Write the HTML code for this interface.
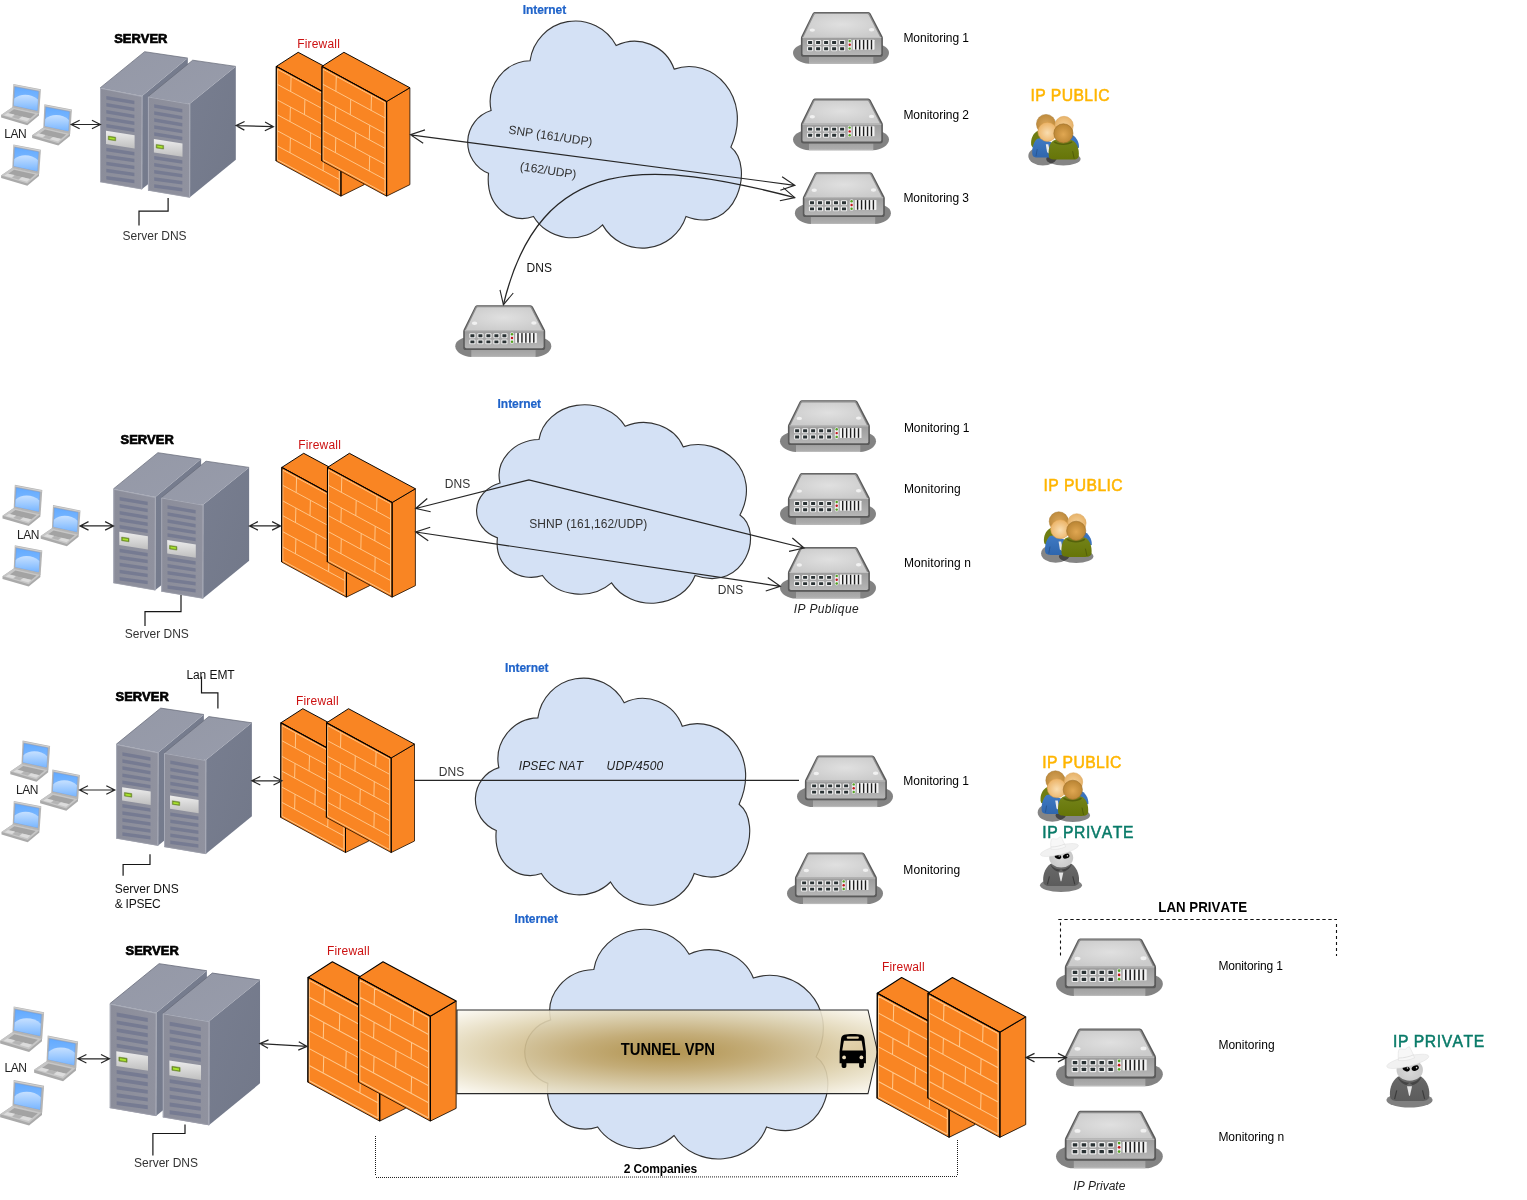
<!DOCTYPE html>
<html lang="en"><head><meta charset="utf-8"><title>Network monitoring diagram</title>
<style>
html,body{margin:0;padding:0;background:#fff;}
body{width:1527px;height:1200px;overflow:hidden;}
svg{display:block;will-change:transform;}
text{font-family:"Liberation Sans",Arial,Helvetica,sans-serif;white-space:pre;font-kerning:none;}
.big{stroke-width:0.5px;paint-order:stroke;}
.srv{stroke:#000;stroke-width:0.65px;paint-order:stroke;}
.net{stroke:#1f63c9;stroke-width:0.2px;}
</style></head>
<body>
<svg width="1527" height="1200" viewBox="0 0 1527 1200">
<defs>
<linearGradient id="srvTop" x1="0" y1="0" x2="1" y2="1"><stop offset="0" stop-color="#9498a6"/><stop offset="1" stop-color="#989cab"/></linearGradient>
<linearGradient id="srvFront" x1="0" y1="0" x2="1" y2="0"><stop offset="0" stop-color="#8b8d9a"/><stop offset="1" stop-color="#90929f"/></linearGradient>
<linearGradient id="srvSide" x1="0" y1="0" x2="1" y2="1"><stop offset="0" stop-color="#787e90"/><stop offset="1" stop-color="#727889"/></linearGradient>
<linearGradient id="srvPanel" x1="0" y1="0" x2="0" y2="1"><stop offset="0" stop-color="#ededed"/><stop offset="1" stop-color="#bfbfbf"/></linearGradient>
<radialGradient id="swTop" cx="0.5" cy="0.45" r="0.6"><stop offset="0" stop-color="#e0e0e0"/><stop offset="1" stop-color="#cbcbcb"/></radialGradient>
<linearGradient id="swFront" x1="0" y1="0" x2="0" y2="1"><stop offset="0" stop-color="#9b9b9b"/><stop offset="1" stop-color="#b6b6b6"/></linearGradient>
<linearGradient id="swBase" x1="0" y1="0" x2="0" y2="1"><stop offset="0" stop-color="#a2a2a2"/><stop offset="0.8" stop-color="#adadad"/><stop offset="1" stop-color="#c4c4c4"/></linearGradient>
<filter id="blur1" x="-50%" y="-50%" width="200%" height="200%"><feGaussianBlur stdDeviation="0.6"/></filter>
<linearGradient id="lapScr" x1="0" y1="0" x2="0" y2="1"><stop offset="0" stop-color="#62aaff"/><stop offset="1" stop-color="#8ec2ff"/></linearGradient>
<linearGradient id="lapGl" x1="0" y1="0" x2="0" y2="1"><stop offset="0" stop-color="#c6e0ff"/><stop offset="1" stop-color="#79b6ff"/></linearGradient>
<radialGradient id="hdDark" cx="0.5" cy="0.5" r="0.6"><stop offset="0" stop-color="#d9a55a"/><stop offset="1" stop-color="#b98638"/></radialGradient>
<radialGradient id="hdDark2" cx="0.5" cy="0.55" r="0.6"><stop offset="0" stop-color="#e0a752"/><stop offset="1" stop-color="#b5802f"/></radialGradient>
<radialGradient id="hdLight" cx="0.5" cy="0.5" r="0.6"><stop offset="0" stop-color="#f5cf94"/><stop offset="1" stop-color="#e4ad62"/></radialGradient>
<radialGradient id="hdLight2" cx="0.5" cy="0.55" r="0.6"><stop offset="0" stop-color="#f9ddb0"/><stop offset="1" stop-color="#eaae5e"/></radialGradient>
<linearGradient id="bdBlue" x1="0" y1="0" x2="0" y2="1"><stop offset="0" stop-color="#3f7ac4"/><stop offset="1" stop-color="#2f66ad"/></linearGradient>
<linearGradient id="bdGreen" x1="0" y1="0" x2="0" y2="1"><stop offset="0" stop-color="#74841a"/><stop offset="1" stop-color="#667508"/></linearGradient>
<linearGradient id="spyBody" x1="0" y1="0" x2="0" y2="1"><stop offset="0" stop-color="#6a6a6a"/><stop offset="1" stop-color="#5c5c5c"/></linearGradient>
<radialGradient id="spyHead" cx="0.5" cy="0.6" r="0.6"><stop offset="0" stop-color="#d8d8d8"/><stop offset="1" stop-color="#c6c6c6"/></radialGradient>
<linearGradient id="busWin" x1="0" y1="0" x2="1" y2="1"><stop offset="0" stop-color="#e4d4b0"/><stop offset="1" stop-color="#dccaa0"/></linearGradient>
<radialGradient id="tunnelG" cx="0.5" cy="0.5" r="0.72"><stop offset="0" stop-color="#ad8a3c"/><stop offset="0.3" stop-color="#c2a76b"/><stop offset="0.65" stop-color="#e0d4b2"/><stop offset="1" stop-color="#fffefa"/></radialGradient>
<filter id="txtAA" filterUnits="userSpaceOnUse" x="0" y="0" width="1527" height="1200"><feOffset dx="0" dy="0"/></filter></defs>
<rect width="1527" height="1200" fill="#fff"/>
<g transform="translate(467.70 21.00) scale(0.9987 0.9994) translate(-467.73 -20.89)"><path d="M530.16 60.66A45.95 45.95 0 0 1 616.39 45.50A42.02 42.02 0 0 1 674.45 69.05C712.50 55.38 754.10 97.30 731.22 147.11C755.57 166.30 736.83 236.24 686.37 216.44A45.95 45.95 0 0 1 602.74 224.89A44.25 44.25 0 0 1 533.63 216.44C511.83 224.80 485.31 207.86 488.56 173.32A33.40 33.40 0 0 1 491.16 110.49A41.35 41.35 0 0 1 530.16 60.66Z" fill="#d4e1f5" stroke="#333" stroke-width="1.15" vector-effect="non-scaling-stroke"/></g>
<g transform="translate(476.60 404.80) scale(0.9994 0.8731) translate(-467.73 -20.89)"><path d="M530.16 60.66A45.95 45.95 0 0 1 616.39 45.50A42.02 42.02 0 0 1 674.45 69.05C712.50 55.38 754.10 97.30 731.22 147.11C755.57 166.30 736.83 236.24 686.37 216.44A45.95 45.95 0 0 1 602.74 224.89A44.25 44.25 0 0 1 533.63 216.44C511.83 224.80 485.31 207.86 488.56 173.32A33.40 33.40 0 0 1 491.16 110.49A41.35 41.35 0 0 1 530.16 60.66Z" fill="#d4e1f5" stroke="#333" stroke-width="1.15" vector-effect="non-scaling-stroke"/></g>
<g transform="translate(475.40 678.10) scale(1.0008 0.9994) translate(-467.73 -20.89)"><path d="M530.16 60.66A45.95 45.95 0 0 1 616.39 45.50A42.02 42.02 0 0 1 674.45 69.05C712.50 55.38 754.10 97.30 731.22 147.11C755.57 166.30 736.83 236.24 686.37 216.44A45.95 45.95 0 0 1 602.74 224.89A44.25 44.25 0 0 1 533.63 216.44C511.83 224.80 485.31 207.86 488.56 173.32A33.40 33.40 0 0 1 491.16 110.49A41.35 41.35 0 0 1 530.16 60.66Z" fill="#d4e1f5" stroke="#333" stroke-width="1.15" vector-effect="non-scaling-stroke"/></g>
<g transform="translate(524.80 929.30) scale(1.1056 1.0109) translate(-467.73 -20.89)"><path d="M530.16 60.66A45.95 45.95 0 0 1 616.39 45.50A42.02 42.02 0 0 1 674.45 69.05C712.50 55.38 754.10 97.30 731.22 147.11C755.57 166.30 736.83 236.24 686.37 216.44A45.95 45.95 0 0 1 602.74 224.89A44.25 44.25 0 0 1 533.63 216.44C511.83 224.80 485.31 207.86 488.56 173.32A33.40 33.40 0 0 1 491.16 110.49A41.35 41.35 0 0 1 530.16 60.66Z" fill="#d4e1f5" stroke="#333" stroke-width="1.15" vector-effect="non-scaling-stroke"/></g>
<path d="M457 1010 L868 1010 L877.6 1052 L868 1093.6 L457 1093.6Z" fill="url(#tunnelG)" fill-opacity="0.9" stroke="#2a2a2a" stroke-width="1.05"/>

<g transform="translate(1.00 84.00) scale(1.0000 1.0000)"><polygon points="0.10,31.00 11.40,23.20 38.00,29.20 38.00,31.60 26.30,41.20 0.10,33.60" fill="#aaaaaa"/><polygon points="0.10,30.90 11.40,23.20 38.00,29.20 26.30,39.00" fill="#c6c6c6"/><polygon points="7.00,29.60 13.00,25.30 34.20,30.10 29.00,34.50" fill="#a3a3a3"/><polygon points="3.20,31.20 6.60,28.90 13.60,30.60 10.60,33.00" fill="#dcdcdc"/><polygon points="18.00,35.00 21.00,32.60 29.00,34.60 26.00,37.20" fill="#dcdcdc"/><polygon points="11.20,33.20 14.00,31.00 20.40,32.60 17.40,34.90" fill="#b4b4b4"/><polygon points="12.40,0.00 39.90,5.30 38.20,29.60 11.30,23.40" fill="#b4b4b4"/><polygon points="12.60,0.60 39.40,5.80 39.30,6.90 12.50,1.70" fill="#d0d0d0"/><polygon points="13.90,2.90 37.40,7.40 36.20,26.60 12.90,21.60" fill="url(#lapScr)" stroke="#6a9be0" stroke-width="0.5"/><path d="M13.3 14.6 C19 9.0 31 9.6 36.9 15.6 L36.2 26.6 L12.9 21.6Z" fill="url(#lapGl)"/></g>
<g transform="translate(32.00 104.30) scale(1.0000 1.0000)"><polygon points="0.10,31.00 11.40,23.20 38.00,29.20 38.00,31.60 26.30,41.20 0.10,33.60" fill="#aaaaaa"/><polygon points="0.10,30.90 11.40,23.20 38.00,29.20 26.30,39.00" fill="#c6c6c6"/><polygon points="7.00,29.60 13.00,25.30 34.20,30.10 29.00,34.50" fill="#a3a3a3"/><polygon points="3.20,31.20 6.60,28.90 13.60,30.60 10.60,33.00" fill="#dcdcdc"/><polygon points="18.00,35.00 21.00,32.60 29.00,34.60 26.00,37.20" fill="#dcdcdc"/><polygon points="11.20,33.20 14.00,31.00 20.40,32.60 17.40,34.90" fill="#b4b4b4"/><polygon points="12.40,0.00 39.90,5.30 38.20,29.60 11.30,23.40" fill="#b4b4b4"/><polygon points="12.60,0.60 39.40,5.80 39.30,6.90 12.50,1.70" fill="#d0d0d0"/><polygon points="13.90,2.90 37.40,7.40 36.20,26.60 12.90,21.60" fill="url(#lapScr)" stroke="#6a9be0" stroke-width="0.5"/><path d="M13.3 14.6 C19 9.0 31 9.6 36.9 15.6 L36.2 26.6 L12.9 21.6Z" fill="url(#lapGl)"/></g>
<g transform="translate(1.00 144.50) scale(1.0000 1.0000)"><polygon points="0.10,31.00 11.40,23.20 38.00,29.20 38.00,31.60 26.30,41.20 0.10,33.60" fill="#aaaaaa"/><polygon points="0.10,30.90 11.40,23.20 38.00,29.20 26.30,39.00" fill="#c6c6c6"/><polygon points="7.00,29.60 13.00,25.30 34.20,30.10 29.00,34.50" fill="#a3a3a3"/><polygon points="3.20,31.20 6.60,28.90 13.60,30.60 10.60,33.00" fill="#dcdcdc"/><polygon points="18.00,35.00 21.00,32.60 29.00,34.60 26.00,37.20" fill="#dcdcdc"/><polygon points="11.20,33.20 14.00,31.00 20.40,32.60 17.40,34.90" fill="#b4b4b4"/><polygon points="12.40,0.00 39.90,5.30 38.20,29.60 11.30,23.40" fill="#b4b4b4"/><polygon points="12.60,0.60 39.40,5.80 39.30,6.90 12.50,1.70" fill="#d0d0d0"/><polygon points="13.90,2.90 37.40,7.40 36.20,26.60 12.90,21.60" fill="url(#lapScr)" stroke="#6a9be0" stroke-width="0.5"/><path d="M13.3 14.6 C19 9.0 31 9.6 36.9 15.6 L36.2 26.6 L12.9 21.6Z" fill="url(#lapGl)"/></g>
<g transform="translate(100.00 52.00) scale(1.0000 1.0000)"><polygon points="42.10,44.10 87.80,6.10 87.80,100.00 41.80,137.30" fill="url(#srvSide)"/><polygon points="0.10,35.90 44.60,-0.30 87.80,6.10 42.10,44.10" fill="url(#srvTop)"/><polyline points="0.10,35.90 44.60,-0.30 87.80,6.10" fill="none" stroke="#666a78" stroke-width="0.8" opacity="0.9"/><polygon points="0.10,35.90 42.10,44.10 41.80,137.30 0.10,130.10" fill="url(#srvFront)"/><polyline points="0.50,130.10 0.50,36.30 42.10,44.50" fill="none" stroke="#a9adb9" stroke-width="0.9"/><line x1="42.10" y1="44.10" x2="41.80" y2="137.30" stroke="#a6a9b5" stroke-width="1.2"/><line x1="0.10" y1="129.80" x2="41.80" y2="137.00" stroke="#9c9eaa" stroke-width="0.8"/><polygon points="6.30,43.90 34.40,48.82 34.40,52.32 6.30,47.40" fill="#767b92"/><polygon points="6.30,50.93 34.40,55.74 34.40,59.24 6.30,54.43" fill="#767b92"/><polygon points="6.30,57.96 34.40,62.65 34.40,66.15 6.30,61.46" fill="#767b92"/><polygon points="6.30,64.99 34.40,69.57 34.40,73.07 6.30,68.49" fill="#767b92"/><polygon points="6.30,72.02 34.40,76.49 34.40,79.99 6.30,75.52" fill="#767b92"/><polygon points="6.30,95.70 34.40,99.91 34.40,103.41 6.30,99.20" fill="#767b92"/><polygon points="6.30,102.75 34.40,106.85 34.40,110.35 6.30,106.25" fill="#767b92"/><polygon points="6.30,109.80 34.40,113.79 34.40,117.29 6.30,113.30" fill="#767b92"/><polygon points="6.30,116.85 34.40,120.73 34.40,124.23 6.30,120.35" fill="#767b92"/><polygon points="6.30,123.90 34.40,127.67 34.40,131.17 6.30,127.40" fill="#767b92"/><polygon points="6.00,78.80 34.60,83.21 34.60,96.51 6.00,92.10" fill="url(#srvPanel)"/><polygon points="8.30,84.10 15.70,85.20 15.70,88.80 8.30,87.70" fill="#6f8f2a" stroke="#6a8a26" stroke-width="0.5" stroke-linejoin="round"/><polygon points="9.30,85.20 14.70,86.00 14.70,87.80 9.30,87.00" fill="#a8e42c"/><polygon points="89.80,51.70 135.80,14.40 135.80,107.80 89.60,145.60" fill="url(#srvSide)"/><polygon points="48.00,44.60 92.70,8.20 135.80,14.40 89.80,51.70" fill="url(#srvTop)"/><polyline points="48.00,44.60 92.70,8.20 135.80,14.40" fill="none" stroke="#666a78" stroke-width="0.8" opacity="0.9"/><polygon points="48.00,44.60 89.80,51.70 89.60,145.60 48.00,138.50" fill="url(#srvFront)"/><polyline points="48.40,138.50 48.40,45.00 89.80,52.10" fill="none" stroke="#a9adb9" stroke-width="0.9"/><line x1="89.80" y1="51.70" x2="89.60" y2="145.60" stroke="#a6a9b5" stroke-width="1.2"/><line x1="48.00" y1="138.20" x2="89.60" y2="145.30" stroke="#9c9eaa" stroke-width="0.8"/><polygon points="54.20,52.20 82.30,57.12 82.30,60.62 54.20,55.70" fill="#767b92"/><polygon points="54.20,59.23 82.30,64.04 82.30,67.54 54.20,62.73" fill="#767b92"/><polygon points="54.20,66.26 82.30,70.95 82.30,74.45 54.20,69.76" fill="#767b92"/><polygon points="54.20,73.29 82.30,77.87 82.30,81.37 54.20,76.79" fill="#767b92"/><polygon points="54.20,80.32 82.30,84.79 82.30,88.29 54.20,83.82" fill="#767b92"/><polygon points="54.20,104.00 82.30,108.22 82.30,111.72 54.20,107.50" fill="#767b92"/><polygon points="54.20,111.05 82.30,115.15 82.30,118.65 54.20,114.55" fill="#767b92"/><polygon points="54.20,118.10 82.30,122.09 82.30,125.59 54.20,121.60" fill="#767b92"/><polygon points="54.20,125.15 82.30,129.03 82.30,132.53 54.20,128.65" fill="#767b92"/><polygon points="54.20,132.20 82.30,135.97 82.30,139.47 54.20,135.70" fill="#767b92"/><polygon points="53.90,87.10 82.50,91.51 82.50,104.81 53.90,100.40" fill="url(#srvPanel)"/><polygon points="56.20,92.40 63.60,93.50 63.60,97.10 56.20,96.00" fill="#6f8f2a" stroke="#6a8a26" stroke-width="0.5" stroke-linejoin="round"/><polygon points="57.20,93.50 62.60,94.30 62.60,96.10 57.20,95.30" fill="#a8e42c"/></g>
<g transform="translate(275.40 52.00) scale(1.0000 1.0000)"><polygon points="65.50,49.54 88.80,35.74 88.80,132.64 65.50,144.14" fill="#f98523" stroke="#1a0d00" stroke-width="0.8" stroke-linejoin="round"/><polygon points="0.90,14.40 22.80,0.30 88.80,35.74 65.50,49.54" fill="#f98523" stroke="#000" stroke-width="0.95" stroke-linejoin="round"/><polygon points="0.90,14.40 65.50,49.54 65.50,144.14 0.70,109.00" fill="#f98523" stroke="#1a0d00" stroke-width="0.8" stroke-linejoin="round"/><path d="M1.90 17.13L63.90 50.70M1.90 32.33L63.90 65.90M1.90 47.93L63.90 81.50M1.90 62.73L63.90 96.30M1.90 78.73L63.90 112.30M1.90 93.93L63.90 127.50M1.90 107.73L63.90 141.30M1.90 17.13L1.90 107.73M63.90 50.70L63.90 141.30M15.70 24.60L15.30 39.80M29.50 47.27L29.10 62.87M15.00 55.02L14.60 69.82M35.30 80.81L34.90 96.81M15.00 85.82L14.60 101.02M48.10 103.74L47.70 118.94" fill="none" stroke="#ffc78a" stroke-width="0.95"/><polyline points="0.70,109.00 0.90,14.40 65.50,49.54" fill="none" stroke="#000" stroke-width="1.05" stroke-linejoin="round"/><line x1="65.50" y1="49.54" x2="65.50" y2="144.14" stroke="#000" stroke-width="1.0"/><polygon points="111.20,49.54 134.50,35.74 134.50,132.64 111.20,144.14" fill="#f98523" stroke="#1a0d00" stroke-width="0.8" stroke-linejoin="round"/><polygon points="46.60,14.40 68.50,0.30 134.50,35.74 111.20,49.54" fill="#f98523" stroke="#000" stroke-width="0.95" stroke-linejoin="round"/><polygon points="46.60,14.40 111.20,49.54 111.20,144.14 46.40,109.00" fill="#f98523" stroke="#1a0d00" stroke-width="0.8" stroke-linejoin="round"/><path d="M47.60 17.13L109.60 50.70M47.60 32.33L109.60 65.90M47.60 47.93L109.60 81.50M47.60 62.73L109.60 96.30M47.60 78.73L109.60 112.30M47.60 93.93L109.60 127.50M47.60 107.73L109.60 141.30M47.60 17.13L47.60 107.73M109.60 50.70L109.60 141.30M60.90 24.33L60.50 39.53M96.10 43.39L95.70 58.59M75.30 47.33L74.90 62.93M60.40 54.86L60.00 69.66M94.30 73.21L93.90 88.01M80.30 80.43L79.90 96.43M60.40 85.66L60.00 100.86M94.30 104.01L93.90 119.21" fill="none" stroke="#ffc78a" stroke-width="0.95"/><polyline points="46.40,109.00 46.60,14.40 111.20,49.54" fill="none" stroke="#000" stroke-width="1.05" stroke-linejoin="round"/><line x1="111.20" y1="49.54" x2="111.20" y2="144.14" stroke="#000" stroke-width="1.0"/></g>
<g transform="translate(793.00 11.80) scale(1.0000 1.0000)"><path d="M0 41.2 C0 35.8 6 33 12 32 L84 32 C90 33 96 35.8 96 41.2 C96 47 88 51.9 80 51.9 L16 51.9 C8 51.9 0 47 0 41.2Z" fill="#838383"/><rect x="16" y="45" width="64.3" height="6.9" fill="url(#swBase)"/><path d="M21.6 0.2 L75.2 0.2 Q76.8 0.2 77.6 1.7 L89.4 24.4 Q89.9 25.4 89.9 26.6 L89.9 42.4 Q89.9 45.0 87.3 45.0 L10.5 45.0 Q7.9 45.0 7.9 42.4 L7.9 26.6 Q7.9 25.4 8.4 24.4 L19.6 1.7 Q20.4 0.2 21.6 0.2Z" fill="#5a5a5a"/><path d="M22.2 1.0 L74.6 1.0 Q75.9 1.0 76.6 2.3 L88.2 25.3 L9.4 25.3 L20.3 2.3 Q21.0 1.0 22.2 1.0Z" fill="#8e8e8e"/><path d="M22.6 2.3 L74.2 2.3 Q75.2 2.3 75.7 3.3 L87.0 25.3 L10.5 25.3 L21.2 3.3 Q21.7 2.3 22.6 2.3Z" fill="url(#swTop)"/><path d="M9.5 25.3 L88.3 25.3 L88.3 41.6 Q88.3 43.2 86.7 43.2 L11.1 43.2 Q9.5 43.2 9.5 41.6Z" fill="url(#swFront)"/><rect x="9.5" y="25.3" width="78.8" height="0.9" fill="#cacaca" opacity="0.9"/><ellipse cx="19.3" cy="18.3" rx="2.7" ry="1.7" fill="#fff" opacity="0.7" filter="url(#blur1)"/><ellipse cx="78.6" cy="18.0" rx="2.7" ry="1.7" fill="#fff" opacity="0.7" filter="url(#blur1)"/><rect x="14.00" y="28.25" width="6.2" height="4.9" rx="1.1" fill="#eeeeee"/><rect x="15.10" y="29.25" width="4.0" height="2.9" rx="0.3" fill="#2a3234"/><rect x="22.00" y="28.25" width="6.2" height="4.9" rx="1.1" fill="#eeeeee"/><rect x="23.10" y="29.25" width="4.0" height="2.9" rx="0.3" fill="#2a3234"/><rect x="30.00" y="28.25" width="6.2" height="4.9" rx="1.1" fill="#eeeeee"/><rect x="31.10" y="29.25" width="4.0" height="2.9" rx="0.3" fill="#2a3234"/><rect x="38.00" y="28.25" width="6.2" height="4.9" rx="1.1" fill="#eeeeee"/><rect x="39.10" y="29.25" width="4.0" height="2.9" rx="0.3" fill="#2a3234"/><rect x="46.00" y="28.25" width="6.2" height="4.9" rx="1.1" fill="#eeeeee"/><rect x="47.10" y="29.25" width="4.0" height="2.9" rx="0.3" fill="#2a3234"/><rect x="14.00" y="34.45" width="6.2" height="4.9" rx="1.1" fill="#eeeeee"/><rect x="15.10" y="35.45" width="4.0" height="2.9" rx="0.3" fill="#2a3234"/><rect x="22.00" y="34.45" width="6.2" height="4.9" rx="1.1" fill="#eeeeee"/><rect x="23.10" y="35.45" width="4.0" height="2.9" rx="0.3" fill="#2a3234"/><rect x="30.00" y="34.45" width="6.2" height="4.9" rx="1.1" fill="#eeeeee"/><rect x="31.10" y="35.45" width="4.0" height="2.9" rx="0.3" fill="#2a3234"/><rect x="38.00" y="34.45" width="6.2" height="4.9" rx="1.1" fill="#eeeeee"/><rect x="39.10" y="35.45" width="4.0" height="2.9" rx="0.3" fill="#2a3234"/><rect x="46.00" y="34.45" width="6.2" height="4.9" rx="1.1" fill="#eeeeee"/><rect x="47.10" y="35.45" width="4.0" height="2.9" rx="0.3" fill="#2a3234"/><rect x="54.8" y="27.2" width="3.8" height="11.6" rx="1.9" fill="#ececec"/><circle cx="56.7" cy="29.2" r="1.2" fill="#52a21f"/><circle cx="56.7" cy="33.0" r="1.2" fill="#c5141b"/><circle cx="56.7" cy="36.8" r="1.2" fill="#52a21f"/><rect x="59.9" y="27.9" width="21.6" height="10.0" rx="0.6" fill="#f4f4f4"/><rect x="62.00" y="28.1" width="1.4" height="9.6" fill="#1e1e1e"/><rect x="65.95" y="28.1" width="1.4" height="9.6" fill="#1e1e1e"/><rect x="69.90" y="28.1" width="1.4" height="9.6" fill="#1e1e1e"/><rect x="73.85" y="28.1" width="1.4" height="9.6" fill="#1e1e1e"/><rect x="77.80" y="28.1" width="1.4" height="9.6" fill="#1e1e1e"/></g>
<g transform="translate(793.00 98.40) scale(1.0000 1.0000)"><path d="M0 41.2 C0 35.8 6 33 12 32 L84 32 C90 33 96 35.8 96 41.2 C96 47 88 51.9 80 51.9 L16 51.9 C8 51.9 0 47 0 41.2Z" fill="#838383"/><rect x="16" y="45" width="64.3" height="6.9" fill="url(#swBase)"/><path d="M21.6 0.2 L75.2 0.2 Q76.8 0.2 77.6 1.7 L89.4 24.4 Q89.9 25.4 89.9 26.6 L89.9 42.4 Q89.9 45.0 87.3 45.0 L10.5 45.0 Q7.9 45.0 7.9 42.4 L7.9 26.6 Q7.9 25.4 8.4 24.4 L19.6 1.7 Q20.4 0.2 21.6 0.2Z" fill="#5a5a5a"/><path d="M22.2 1.0 L74.6 1.0 Q75.9 1.0 76.6 2.3 L88.2 25.3 L9.4 25.3 L20.3 2.3 Q21.0 1.0 22.2 1.0Z" fill="#8e8e8e"/><path d="M22.6 2.3 L74.2 2.3 Q75.2 2.3 75.7 3.3 L87.0 25.3 L10.5 25.3 L21.2 3.3 Q21.7 2.3 22.6 2.3Z" fill="url(#swTop)"/><path d="M9.5 25.3 L88.3 25.3 L88.3 41.6 Q88.3 43.2 86.7 43.2 L11.1 43.2 Q9.5 43.2 9.5 41.6Z" fill="url(#swFront)"/><rect x="9.5" y="25.3" width="78.8" height="0.9" fill="#cacaca" opacity="0.9"/><ellipse cx="19.3" cy="18.3" rx="2.7" ry="1.7" fill="#fff" opacity="0.7" filter="url(#blur1)"/><ellipse cx="78.6" cy="18.0" rx="2.7" ry="1.7" fill="#fff" opacity="0.7" filter="url(#blur1)"/><rect x="14.00" y="28.25" width="6.2" height="4.9" rx="1.1" fill="#eeeeee"/><rect x="15.10" y="29.25" width="4.0" height="2.9" rx="0.3" fill="#2a3234"/><rect x="22.00" y="28.25" width="6.2" height="4.9" rx="1.1" fill="#eeeeee"/><rect x="23.10" y="29.25" width="4.0" height="2.9" rx="0.3" fill="#2a3234"/><rect x="30.00" y="28.25" width="6.2" height="4.9" rx="1.1" fill="#eeeeee"/><rect x="31.10" y="29.25" width="4.0" height="2.9" rx="0.3" fill="#2a3234"/><rect x="38.00" y="28.25" width="6.2" height="4.9" rx="1.1" fill="#eeeeee"/><rect x="39.10" y="29.25" width="4.0" height="2.9" rx="0.3" fill="#2a3234"/><rect x="46.00" y="28.25" width="6.2" height="4.9" rx="1.1" fill="#eeeeee"/><rect x="47.10" y="29.25" width="4.0" height="2.9" rx="0.3" fill="#2a3234"/><rect x="14.00" y="34.45" width="6.2" height="4.9" rx="1.1" fill="#eeeeee"/><rect x="15.10" y="35.45" width="4.0" height="2.9" rx="0.3" fill="#2a3234"/><rect x="22.00" y="34.45" width="6.2" height="4.9" rx="1.1" fill="#eeeeee"/><rect x="23.10" y="35.45" width="4.0" height="2.9" rx="0.3" fill="#2a3234"/><rect x="30.00" y="34.45" width="6.2" height="4.9" rx="1.1" fill="#eeeeee"/><rect x="31.10" y="35.45" width="4.0" height="2.9" rx="0.3" fill="#2a3234"/><rect x="38.00" y="34.45" width="6.2" height="4.9" rx="1.1" fill="#eeeeee"/><rect x="39.10" y="35.45" width="4.0" height="2.9" rx="0.3" fill="#2a3234"/><rect x="46.00" y="34.45" width="6.2" height="4.9" rx="1.1" fill="#eeeeee"/><rect x="47.10" y="35.45" width="4.0" height="2.9" rx="0.3" fill="#2a3234"/><rect x="54.8" y="27.2" width="3.8" height="11.6" rx="1.9" fill="#ececec"/><circle cx="56.7" cy="29.2" r="1.2" fill="#52a21f"/><circle cx="56.7" cy="33.0" r="1.2" fill="#c5141b"/><circle cx="56.7" cy="36.8" r="1.2" fill="#52a21f"/><rect x="59.9" y="27.9" width="21.6" height="10.0" rx="0.6" fill="#f4f4f4"/><rect x="62.00" y="28.1" width="1.4" height="9.6" fill="#1e1e1e"/><rect x="65.95" y="28.1" width="1.4" height="9.6" fill="#1e1e1e"/><rect x="69.90" y="28.1" width="1.4" height="9.6" fill="#1e1e1e"/><rect x="73.85" y="28.1" width="1.4" height="9.6" fill="#1e1e1e"/><rect x="77.80" y="28.1" width="1.4" height="9.6" fill="#1e1e1e"/></g>
<g transform="translate(794.90 172.00) scale(1.0000 1.0000)"><path d="M0 41.2 C0 35.8 6 33 12 32 L84 32 C90 33 96 35.8 96 41.2 C96 47 88 51.9 80 51.9 L16 51.9 C8 51.9 0 47 0 41.2Z" fill="#838383"/><rect x="16" y="45" width="64.3" height="6.9" fill="url(#swBase)"/><path d="M21.6 0.2 L75.2 0.2 Q76.8 0.2 77.6 1.7 L89.4 24.4 Q89.9 25.4 89.9 26.6 L89.9 42.4 Q89.9 45.0 87.3 45.0 L10.5 45.0 Q7.9 45.0 7.9 42.4 L7.9 26.6 Q7.9 25.4 8.4 24.4 L19.6 1.7 Q20.4 0.2 21.6 0.2Z" fill="#5a5a5a"/><path d="M22.2 1.0 L74.6 1.0 Q75.9 1.0 76.6 2.3 L88.2 25.3 L9.4 25.3 L20.3 2.3 Q21.0 1.0 22.2 1.0Z" fill="#8e8e8e"/><path d="M22.6 2.3 L74.2 2.3 Q75.2 2.3 75.7 3.3 L87.0 25.3 L10.5 25.3 L21.2 3.3 Q21.7 2.3 22.6 2.3Z" fill="url(#swTop)"/><path d="M9.5 25.3 L88.3 25.3 L88.3 41.6 Q88.3 43.2 86.7 43.2 L11.1 43.2 Q9.5 43.2 9.5 41.6Z" fill="url(#swFront)"/><rect x="9.5" y="25.3" width="78.8" height="0.9" fill="#cacaca" opacity="0.9"/><ellipse cx="19.3" cy="18.3" rx="2.7" ry="1.7" fill="#fff" opacity="0.7" filter="url(#blur1)"/><ellipse cx="78.6" cy="18.0" rx="2.7" ry="1.7" fill="#fff" opacity="0.7" filter="url(#blur1)"/><rect x="14.00" y="28.25" width="6.2" height="4.9" rx="1.1" fill="#eeeeee"/><rect x="15.10" y="29.25" width="4.0" height="2.9" rx="0.3" fill="#2a3234"/><rect x="22.00" y="28.25" width="6.2" height="4.9" rx="1.1" fill="#eeeeee"/><rect x="23.10" y="29.25" width="4.0" height="2.9" rx="0.3" fill="#2a3234"/><rect x="30.00" y="28.25" width="6.2" height="4.9" rx="1.1" fill="#eeeeee"/><rect x="31.10" y="29.25" width="4.0" height="2.9" rx="0.3" fill="#2a3234"/><rect x="38.00" y="28.25" width="6.2" height="4.9" rx="1.1" fill="#eeeeee"/><rect x="39.10" y="29.25" width="4.0" height="2.9" rx="0.3" fill="#2a3234"/><rect x="46.00" y="28.25" width="6.2" height="4.9" rx="1.1" fill="#eeeeee"/><rect x="47.10" y="29.25" width="4.0" height="2.9" rx="0.3" fill="#2a3234"/><rect x="14.00" y="34.45" width="6.2" height="4.9" rx="1.1" fill="#eeeeee"/><rect x="15.10" y="35.45" width="4.0" height="2.9" rx="0.3" fill="#2a3234"/><rect x="22.00" y="34.45" width="6.2" height="4.9" rx="1.1" fill="#eeeeee"/><rect x="23.10" y="35.45" width="4.0" height="2.9" rx="0.3" fill="#2a3234"/><rect x="30.00" y="34.45" width="6.2" height="4.9" rx="1.1" fill="#eeeeee"/><rect x="31.10" y="35.45" width="4.0" height="2.9" rx="0.3" fill="#2a3234"/><rect x="38.00" y="34.45" width="6.2" height="4.9" rx="1.1" fill="#eeeeee"/><rect x="39.10" y="35.45" width="4.0" height="2.9" rx="0.3" fill="#2a3234"/><rect x="46.00" y="34.45" width="6.2" height="4.9" rx="1.1" fill="#eeeeee"/><rect x="47.10" y="35.45" width="4.0" height="2.9" rx="0.3" fill="#2a3234"/><rect x="54.8" y="27.2" width="3.8" height="11.6" rx="1.9" fill="#ececec"/><circle cx="56.7" cy="29.2" r="1.2" fill="#52a21f"/><circle cx="56.7" cy="33.0" r="1.2" fill="#c5141b"/><circle cx="56.7" cy="36.8" r="1.2" fill="#52a21f"/><rect x="59.9" y="27.9" width="21.6" height="10.0" rx="0.6" fill="#f4f4f4"/><rect x="62.00" y="28.1" width="1.4" height="9.6" fill="#1e1e1e"/><rect x="65.95" y="28.1" width="1.4" height="9.6" fill="#1e1e1e"/><rect x="69.90" y="28.1" width="1.4" height="9.6" fill="#1e1e1e"/><rect x="73.85" y="28.1" width="1.4" height="9.6" fill="#1e1e1e"/><rect x="77.80" y="28.1" width="1.4" height="9.6" fill="#1e1e1e"/></g>
<g transform="translate(455.30 305.00) scale(1.0000 1.0000)"><path d="M0 41.2 C0 35.8 6 33 12 32 L84 32 C90 33 96 35.8 96 41.2 C96 47 88 51.9 80 51.9 L16 51.9 C8 51.9 0 47 0 41.2Z" fill="#838383"/><rect x="16" y="45" width="64.3" height="6.9" fill="url(#swBase)"/><path d="M21.6 0.2 L75.2 0.2 Q76.8 0.2 77.6 1.7 L89.4 24.4 Q89.9 25.4 89.9 26.6 L89.9 42.4 Q89.9 45.0 87.3 45.0 L10.5 45.0 Q7.9 45.0 7.9 42.4 L7.9 26.6 Q7.9 25.4 8.4 24.4 L19.6 1.7 Q20.4 0.2 21.6 0.2Z" fill="#5a5a5a"/><path d="M22.2 1.0 L74.6 1.0 Q75.9 1.0 76.6 2.3 L88.2 25.3 L9.4 25.3 L20.3 2.3 Q21.0 1.0 22.2 1.0Z" fill="#8e8e8e"/><path d="M22.6 2.3 L74.2 2.3 Q75.2 2.3 75.7 3.3 L87.0 25.3 L10.5 25.3 L21.2 3.3 Q21.7 2.3 22.6 2.3Z" fill="url(#swTop)"/><path d="M9.5 25.3 L88.3 25.3 L88.3 41.6 Q88.3 43.2 86.7 43.2 L11.1 43.2 Q9.5 43.2 9.5 41.6Z" fill="url(#swFront)"/><rect x="9.5" y="25.3" width="78.8" height="0.9" fill="#cacaca" opacity="0.9"/><ellipse cx="19.3" cy="18.3" rx="2.7" ry="1.7" fill="#fff" opacity="0.7" filter="url(#blur1)"/><ellipse cx="78.6" cy="18.0" rx="2.7" ry="1.7" fill="#fff" opacity="0.7" filter="url(#blur1)"/><rect x="14.00" y="28.25" width="6.2" height="4.9" rx="1.1" fill="#eeeeee"/><rect x="15.10" y="29.25" width="4.0" height="2.9" rx="0.3" fill="#2a3234"/><rect x="22.00" y="28.25" width="6.2" height="4.9" rx="1.1" fill="#eeeeee"/><rect x="23.10" y="29.25" width="4.0" height="2.9" rx="0.3" fill="#2a3234"/><rect x="30.00" y="28.25" width="6.2" height="4.9" rx="1.1" fill="#eeeeee"/><rect x="31.10" y="29.25" width="4.0" height="2.9" rx="0.3" fill="#2a3234"/><rect x="38.00" y="28.25" width="6.2" height="4.9" rx="1.1" fill="#eeeeee"/><rect x="39.10" y="29.25" width="4.0" height="2.9" rx="0.3" fill="#2a3234"/><rect x="46.00" y="28.25" width="6.2" height="4.9" rx="1.1" fill="#eeeeee"/><rect x="47.10" y="29.25" width="4.0" height="2.9" rx="0.3" fill="#2a3234"/><rect x="14.00" y="34.45" width="6.2" height="4.9" rx="1.1" fill="#eeeeee"/><rect x="15.10" y="35.45" width="4.0" height="2.9" rx="0.3" fill="#2a3234"/><rect x="22.00" y="34.45" width="6.2" height="4.9" rx="1.1" fill="#eeeeee"/><rect x="23.10" y="35.45" width="4.0" height="2.9" rx="0.3" fill="#2a3234"/><rect x="30.00" y="34.45" width="6.2" height="4.9" rx="1.1" fill="#eeeeee"/><rect x="31.10" y="35.45" width="4.0" height="2.9" rx="0.3" fill="#2a3234"/><rect x="38.00" y="34.45" width="6.2" height="4.9" rx="1.1" fill="#eeeeee"/><rect x="39.10" y="35.45" width="4.0" height="2.9" rx="0.3" fill="#2a3234"/><rect x="46.00" y="34.45" width="6.2" height="4.9" rx="1.1" fill="#eeeeee"/><rect x="47.10" y="35.45" width="4.0" height="2.9" rx="0.3" fill="#2a3234"/><rect x="54.8" y="27.2" width="3.8" height="11.6" rx="1.9" fill="#ececec"/><circle cx="56.7" cy="29.2" r="1.2" fill="#52a21f"/><circle cx="56.7" cy="33.0" r="1.2" fill="#c5141b"/><circle cx="56.7" cy="36.8" r="1.2" fill="#52a21f"/><rect x="59.9" y="27.9" width="21.6" height="10.0" rx="0.6" fill="#f4f4f4"/><rect x="62.00" y="28.1" width="1.4" height="9.6" fill="#1e1e1e"/><rect x="65.95" y="28.1" width="1.4" height="9.6" fill="#1e1e1e"/><rect x="69.90" y="28.1" width="1.4" height="9.6" fill="#1e1e1e"/><rect x="73.85" y="28.1" width="1.4" height="9.6" fill="#1e1e1e"/><rect x="77.80" y="28.1" width="1.4" height="9.6" fill="#1e1e1e"/></g>
<g transform="translate(1028.60 114.20) scale(1.0000 1.0000)"><ellipse cx="14.3" cy="41.8" rx="14.6" ry="9.4" fill="#000" fill-opacity="0.48"/><ellipse cx="34.8" cy="44.8" rx="17.2" ry="6.5" fill="#000" fill-opacity="0.48"/><path d="M9.5 16.5 C4 19 2 25 2.6 30.5 C3 33.5 6 34 9 33 L15 24Z" fill="#6e7d12"/><path d="M42 20 C47 21.5 50.6 27 50.4 33.5 L44 35 L40 24Z" fill="#3a73bd"/><circle cx="17.4" cy="9.8" r="9.6" fill="url(#hdDark)" stroke="#a87a32" stroke-width="0.5"/><circle cx="35.4" cy="11.4" r="9.3" fill="url(#hdLight)" stroke="#d8a050" stroke-width="0.5"/><path d="M8.5 24.5 C4.5 28 3.2 35 3.8 40.5 C4.3 43 7 43.5 10 43.4 L21.5 43.4 L23 28 L12 24Z" fill="url(#bdBlue)"/><path d="M17.2 30 L19.8 30 L21.5 40 L18.5 38Z" fill="#e8e8e8"/><path d="M8.6 35 L7.4 42" stroke="#27548f" stroke-width="0.9" fill="none"/><circle cx="18.8" cy="17.6" r="9.6" fill="url(#hdLight2)" stroke="#d49a48" stroke-width="0.5"/><path d="M24.5 26.5 C20.5 29.5 19.6 36 20.2 42 C20.6 44.8 23.5 45.3 27 45.3 L44 45.3 C47.5 45.3 50 44.5 50.2 41.5 C50.6 35.5 49 29.5 44.5 26.5 C38 24 30 24 24.5 26.5Z" fill="url(#bdGreen)"/><path d="M44 37 L45.6 44.5" stroke="#4f5b0a" stroke-width="0.9" fill="none"/><path d="M25.5 27.5 C30 31 39 31 43.5 27.5" stroke="#55610c" stroke-width="1.4" fill="none"/><circle cx="34.8" cy="19.2" r="9.6" fill="url(#hdDark2)" stroke="#9c6f2a" stroke-width="0.6"/></g>
<g transform="translate(2.40 484.80) scale(1.0000 1.0000)"><polygon points="0.10,31.00 11.40,23.20 38.00,29.20 38.00,31.60 26.30,41.20 0.10,33.60" fill="#aaaaaa"/><polygon points="0.10,30.90 11.40,23.20 38.00,29.20 26.30,39.00" fill="#c6c6c6"/><polygon points="7.00,29.60 13.00,25.30 34.20,30.10 29.00,34.50" fill="#a3a3a3"/><polygon points="3.20,31.20 6.60,28.90 13.60,30.60 10.60,33.00" fill="#dcdcdc"/><polygon points="18.00,35.00 21.00,32.60 29.00,34.60 26.00,37.20" fill="#dcdcdc"/><polygon points="11.20,33.20 14.00,31.00 20.40,32.60 17.40,34.90" fill="#b4b4b4"/><polygon points="12.40,0.00 39.90,5.30 38.20,29.60 11.30,23.40" fill="#b4b4b4"/><polygon points="12.60,0.60 39.40,5.80 39.30,6.90 12.50,1.70" fill="#d0d0d0"/><polygon points="13.90,2.90 37.40,7.40 36.20,26.60 12.90,21.60" fill="url(#lapScr)" stroke="#6a9be0" stroke-width="0.5"/><path d="M13.3 14.6 C19 9.0 31 9.6 36.9 15.6 L36.2 26.6 L12.9 21.6Z" fill="url(#lapGl)"/></g>
<g transform="translate(40.60 505.10) scale(1.0000 1.0000)"><polygon points="0.10,31.00 11.40,23.20 38.00,29.20 38.00,31.60 26.30,41.20 0.10,33.60" fill="#aaaaaa"/><polygon points="0.10,30.90 11.40,23.20 38.00,29.20 26.30,39.00" fill="#c6c6c6"/><polygon points="7.00,29.60 13.00,25.30 34.20,30.10 29.00,34.50" fill="#a3a3a3"/><polygon points="3.20,31.20 6.60,28.90 13.60,30.60 10.60,33.00" fill="#dcdcdc"/><polygon points="18.00,35.00 21.00,32.60 29.00,34.60 26.00,37.20" fill="#dcdcdc"/><polygon points="11.20,33.20 14.00,31.00 20.40,32.60 17.40,34.90" fill="#b4b4b4"/><polygon points="12.40,0.00 39.90,5.30 38.20,29.60 11.30,23.40" fill="#b4b4b4"/><polygon points="12.60,0.60 39.40,5.80 39.30,6.90 12.50,1.70" fill="#d0d0d0"/><polygon points="13.90,2.90 37.40,7.40 36.20,26.60 12.90,21.60" fill="url(#lapScr)" stroke="#6a9be0" stroke-width="0.5"/><path d="M13.3 14.6 C19 9.0 31 9.6 36.9 15.6 L36.2 26.6 L12.9 21.6Z" fill="url(#lapGl)"/></g>
<g transform="translate(2.40 545.30) scale(1.0000 1.0000)"><polygon points="0.10,31.00 11.40,23.20 38.00,29.20 38.00,31.60 26.30,41.20 0.10,33.60" fill="#aaaaaa"/><polygon points="0.10,30.90 11.40,23.20 38.00,29.20 26.30,39.00" fill="#c6c6c6"/><polygon points="7.00,29.60 13.00,25.30 34.20,30.10 29.00,34.50" fill="#a3a3a3"/><polygon points="3.20,31.20 6.60,28.90 13.60,30.60 10.60,33.00" fill="#dcdcdc"/><polygon points="18.00,35.00 21.00,32.60 29.00,34.60 26.00,37.20" fill="#dcdcdc"/><polygon points="11.20,33.20 14.00,31.00 20.40,32.60 17.40,34.90" fill="#b4b4b4"/><polygon points="12.40,0.00 39.90,5.30 38.20,29.60 11.30,23.40" fill="#b4b4b4"/><polygon points="12.60,0.60 39.40,5.80 39.30,6.90 12.50,1.70" fill="#d0d0d0"/><polygon points="13.90,2.90 37.40,7.40 36.20,26.60 12.90,21.60" fill="url(#lapScr)" stroke="#6a9be0" stroke-width="0.5"/><path d="M13.3 14.6 C19 9.0 31 9.6 36.9 15.6 L36.2 26.6 L12.9 21.6Z" fill="url(#lapGl)"/></g>
<g transform="translate(113.30 453.00) scale(1.0000 1.0000)"><polygon points="42.10,44.10 87.80,6.10 87.80,100.00 41.80,137.30" fill="url(#srvSide)"/><polygon points="0.10,35.90 44.60,-0.30 87.80,6.10 42.10,44.10" fill="url(#srvTop)"/><polyline points="0.10,35.90 44.60,-0.30 87.80,6.10" fill="none" stroke="#666a78" stroke-width="0.8" opacity="0.9"/><polygon points="0.10,35.90 42.10,44.10 41.80,137.30 0.10,130.10" fill="url(#srvFront)"/><polyline points="0.50,130.10 0.50,36.30 42.10,44.50" fill="none" stroke="#a9adb9" stroke-width="0.9"/><line x1="42.10" y1="44.10" x2="41.80" y2="137.30" stroke="#a6a9b5" stroke-width="1.2"/><line x1="0.10" y1="129.80" x2="41.80" y2="137.00" stroke="#9c9eaa" stroke-width="0.8"/><polygon points="6.30,43.90 34.40,48.82 34.40,52.32 6.30,47.40" fill="#767b92"/><polygon points="6.30,50.93 34.40,55.74 34.40,59.24 6.30,54.43" fill="#767b92"/><polygon points="6.30,57.96 34.40,62.65 34.40,66.15 6.30,61.46" fill="#767b92"/><polygon points="6.30,64.99 34.40,69.57 34.40,73.07 6.30,68.49" fill="#767b92"/><polygon points="6.30,72.02 34.40,76.49 34.40,79.99 6.30,75.52" fill="#767b92"/><polygon points="6.30,95.70 34.40,99.91 34.40,103.41 6.30,99.20" fill="#767b92"/><polygon points="6.30,102.75 34.40,106.85 34.40,110.35 6.30,106.25" fill="#767b92"/><polygon points="6.30,109.80 34.40,113.79 34.40,117.29 6.30,113.30" fill="#767b92"/><polygon points="6.30,116.85 34.40,120.73 34.40,124.23 6.30,120.35" fill="#767b92"/><polygon points="6.30,123.90 34.40,127.67 34.40,131.17 6.30,127.40" fill="#767b92"/><polygon points="6.00,78.80 34.60,83.21 34.60,96.51 6.00,92.10" fill="url(#srvPanel)"/><polygon points="8.30,84.10 15.70,85.20 15.70,88.80 8.30,87.70" fill="#6f8f2a" stroke="#6a8a26" stroke-width="0.5" stroke-linejoin="round"/><polygon points="9.30,85.20 14.70,86.00 14.70,87.80 9.30,87.00" fill="#a8e42c"/><polygon points="89.80,51.70 135.80,14.40 135.80,107.80 89.60,145.60" fill="url(#srvSide)"/><polygon points="48.00,44.60 92.70,8.20 135.80,14.40 89.80,51.70" fill="url(#srvTop)"/><polyline points="48.00,44.60 92.70,8.20 135.80,14.40" fill="none" stroke="#666a78" stroke-width="0.8" opacity="0.9"/><polygon points="48.00,44.60 89.80,51.70 89.60,145.60 48.00,138.50" fill="url(#srvFront)"/><polyline points="48.40,138.50 48.40,45.00 89.80,52.10" fill="none" stroke="#a9adb9" stroke-width="0.9"/><line x1="89.80" y1="51.70" x2="89.60" y2="145.60" stroke="#a6a9b5" stroke-width="1.2"/><line x1="48.00" y1="138.20" x2="89.60" y2="145.30" stroke="#9c9eaa" stroke-width="0.8"/><polygon points="54.20,52.20 82.30,57.12 82.30,60.62 54.20,55.70" fill="#767b92"/><polygon points="54.20,59.23 82.30,64.04 82.30,67.54 54.20,62.73" fill="#767b92"/><polygon points="54.20,66.26 82.30,70.95 82.30,74.45 54.20,69.76" fill="#767b92"/><polygon points="54.20,73.29 82.30,77.87 82.30,81.37 54.20,76.79" fill="#767b92"/><polygon points="54.20,80.32 82.30,84.79 82.30,88.29 54.20,83.82" fill="#767b92"/><polygon points="54.20,104.00 82.30,108.22 82.30,111.72 54.20,107.50" fill="#767b92"/><polygon points="54.20,111.05 82.30,115.15 82.30,118.65 54.20,114.55" fill="#767b92"/><polygon points="54.20,118.10 82.30,122.09 82.30,125.59 54.20,121.60" fill="#767b92"/><polygon points="54.20,125.15 82.30,129.03 82.30,132.53 54.20,128.65" fill="#767b92"/><polygon points="54.20,132.20 82.30,135.97 82.30,139.47 54.20,135.70" fill="#767b92"/><polygon points="53.90,87.10 82.50,91.51 82.50,104.81 53.90,100.40" fill="url(#srvPanel)"/><polygon points="56.20,92.40 63.60,93.50 63.60,97.10 56.20,96.00" fill="#6f8f2a" stroke="#6a8a26" stroke-width="0.5" stroke-linejoin="round"/><polygon points="57.20,93.50 62.60,94.30 62.60,96.10 57.20,95.30" fill="#a8e42c"/></g>
<g transform="translate(280.90 453.00) scale(1.0000 1.0000)"><polygon points="65.50,49.54 88.80,35.74 88.80,132.64 65.50,144.14" fill="#f98523" stroke="#1a0d00" stroke-width="0.8" stroke-linejoin="round"/><polygon points="0.90,14.40 22.80,0.30 88.80,35.74 65.50,49.54" fill="#f98523" stroke="#000" stroke-width="0.95" stroke-linejoin="round"/><polygon points="0.90,14.40 65.50,49.54 65.50,144.14 0.70,109.00" fill="#f98523" stroke="#1a0d00" stroke-width="0.8" stroke-linejoin="round"/><path d="M1.90 17.13L63.90 50.70M1.90 32.33L63.90 65.90M1.90 47.93L63.90 81.50M1.90 62.73L63.90 96.30M1.90 78.73L63.90 112.30M1.90 93.93L63.90 127.50M1.90 107.73L63.90 141.30M1.90 17.13L1.90 107.73M63.90 50.70L63.90 141.30M15.70 24.60L15.30 39.80M29.50 47.27L29.10 62.87M15.00 55.02L14.60 69.82M35.30 80.81L34.90 96.81M15.00 85.82L14.60 101.02M48.10 103.74L47.70 118.94" fill="none" stroke="#ffc78a" stroke-width="0.95"/><polyline points="0.70,109.00 0.90,14.40 65.50,49.54" fill="none" stroke="#000" stroke-width="1.05" stroke-linejoin="round"/><line x1="65.50" y1="49.54" x2="65.50" y2="144.14" stroke="#000" stroke-width="1.0"/><polygon points="111.20,49.54 134.50,35.74 134.50,132.64 111.20,144.14" fill="#f98523" stroke="#1a0d00" stroke-width="0.8" stroke-linejoin="round"/><polygon points="46.60,14.40 68.50,0.30 134.50,35.74 111.20,49.54" fill="#f98523" stroke="#000" stroke-width="0.95" stroke-linejoin="round"/><polygon points="46.60,14.40 111.20,49.54 111.20,144.14 46.40,109.00" fill="#f98523" stroke="#1a0d00" stroke-width="0.8" stroke-linejoin="round"/><path d="M47.60 17.13L109.60 50.70M47.60 32.33L109.60 65.90M47.60 47.93L109.60 81.50M47.60 62.73L109.60 96.30M47.60 78.73L109.60 112.30M47.60 93.93L109.60 127.50M47.60 107.73L109.60 141.30M47.60 17.13L47.60 107.73M109.60 50.70L109.60 141.30M60.90 24.33L60.50 39.53M96.10 43.39L95.70 58.59M75.30 47.33L74.90 62.93M60.40 54.86L60.00 69.66M94.30 73.21L93.90 88.01M80.30 80.43L79.90 96.43M60.40 85.66L60.00 100.86M94.30 104.01L93.90 119.21" fill="none" stroke="#ffc78a" stroke-width="0.95"/><polyline points="46.40,109.00 46.60,14.40 111.20,49.54" fill="none" stroke="#000" stroke-width="1.05" stroke-linejoin="round"/><line x1="111.20" y1="49.54" x2="111.20" y2="144.14" stroke="#000" stroke-width="1.0"/></g>
<g transform="translate(780.00 400.10) scale(1.0000 1.0000)"><path d="M0 41.2 C0 35.8 6 33 12 32 L84 32 C90 33 96 35.8 96 41.2 C96 47 88 51.9 80 51.9 L16 51.9 C8 51.9 0 47 0 41.2Z" fill="#838383"/><rect x="16" y="45" width="64.3" height="6.9" fill="url(#swBase)"/><path d="M21.6 0.2 L75.2 0.2 Q76.8 0.2 77.6 1.7 L89.4 24.4 Q89.9 25.4 89.9 26.6 L89.9 42.4 Q89.9 45.0 87.3 45.0 L10.5 45.0 Q7.9 45.0 7.9 42.4 L7.9 26.6 Q7.9 25.4 8.4 24.4 L19.6 1.7 Q20.4 0.2 21.6 0.2Z" fill="#5a5a5a"/><path d="M22.2 1.0 L74.6 1.0 Q75.9 1.0 76.6 2.3 L88.2 25.3 L9.4 25.3 L20.3 2.3 Q21.0 1.0 22.2 1.0Z" fill="#8e8e8e"/><path d="M22.6 2.3 L74.2 2.3 Q75.2 2.3 75.7 3.3 L87.0 25.3 L10.5 25.3 L21.2 3.3 Q21.7 2.3 22.6 2.3Z" fill="url(#swTop)"/><path d="M9.5 25.3 L88.3 25.3 L88.3 41.6 Q88.3 43.2 86.7 43.2 L11.1 43.2 Q9.5 43.2 9.5 41.6Z" fill="url(#swFront)"/><rect x="9.5" y="25.3" width="78.8" height="0.9" fill="#cacaca" opacity="0.9"/><ellipse cx="19.3" cy="18.3" rx="2.7" ry="1.7" fill="#fff" opacity="0.7" filter="url(#blur1)"/><ellipse cx="78.6" cy="18.0" rx="2.7" ry="1.7" fill="#fff" opacity="0.7" filter="url(#blur1)"/><rect x="14.00" y="28.25" width="6.2" height="4.9" rx="1.1" fill="#eeeeee"/><rect x="15.10" y="29.25" width="4.0" height="2.9" rx="0.3" fill="#2a3234"/><rect x="22.00" y="28.25" width="6.2" height="4.9" rx="1.1" fill="#eeeeee"/><rect x="23.10" y="29.25" width="4.0" height="2.9" rx="0.3" fill="#2a3234"/><rect x="30.00" y="28.25" width="6.2" height="4.9" rx="1.1" fill="#eeeeee"/><rect x="31.10" y="29.25" width="4.0" height="2.9" rx="0.3" fill="#2a3234"/><rect x="38.00" y="28.25" width="6.2" height="4.9" rx="1.1" fill="#eeeeee"/><rect x="39.10" y="29.25" width="4.0" height="2.9" rx="0.3" fill="#2a3234"/><rect x="46.00" y="28.25" width="6.2" height="4.9" rx="1.1" fill="#eeeeee"/><rect x="47.10" y="29.25" width="4.0" height="2.9" rx="0.3" fill="#2a3234"/><rect x="14.00" y="34.45" width="6.2" height="4.9" rx="1.1" fill="#eeeeee"/><rect x="15.10" y="35.45" width="4.0" height="2.9" rx="0.3" fill="#2a3234"/><rect x="22.00" y="34.45" width="6.2" height="4.9" rx="1.1" fill="#eeeeee"/><rect x="23.10" y="35.45" width="4.0" height="2.9" rx="0.3" fill="#2a3234"/><rect x="30.00" y="34.45" width="6.2" height="4.9" rx="1.1" fill="#eeeeee"/><rect x="31.10" y="35.45" width="4.0" height="2.9" rx="0.3" fill="#2a3234"/><rect x="38.00" y="34.45" width="6.2" height="4.9" rx="1.1" fill="#eeeeee"/><rect x="39.10" y="35.45" width="4.0" height="2.9" rx="0.3" fill="#2a3234"/><rect x="46.00" y="34.45" width="6.2" height="4.9" rx="1.1" fill="#eeeeee"/><rect x="47.10" y="35.45" width="4.0" height="2.9" rx="0.3" fill="#2a3234"/><rect x="54.8" y="27.2" width="3.8" height="11.6" rx="1.9" fill="#ececec"/><circle cx="56.7" cy="29.2" r="1.2" fill="#52a21f"/><circle cx="56.7" cy="33.0" r="1.2" fill="#c5141b"/><circle cx="56.7" cy="36.8" r="1.2" fill="#52a21f"/><rect x="59.9" y="27.9" width="21.6" height="10.0" rx="0.6" fill="#f4f4f4"/><rect x="62.00" y="28.1" width="1.4" height="9.6" fill="#1e1e1e"/><rect x="65.95" y="28.1" width="1.4" height="9.6" fill="#1e1e1e"/><rect x="69.90" y="28.1" width="1.4" height="9.6" fill="#1e1e1e"/><rect x="73.85" y="28.1" width="1.4" height="9.6" fill="#1e1e1e"/><rect x="77.80" y="28.1" width="1.4" height="9.6" fill="#1e1e1e"/></g>
<g transform="translate(780.00 472.80) scale(1.0000 1.0000)"><path d="M0 41.2 C0 35.8 6 33 12 32 L84 32 C90 33 96 35.8 96 41.2 C96 47 88 51.9 80 51.9 L16 51.9 C8 51.9 0 47 0 41.2Z" fill="#838383"/><rect x="16" y="45" width="64.3" height="6.9" fill="url(#swBase)"/><path d="M21.6 0.2 L75.2 0.2 Q76.8 0.2 77.6 1.7 L89.4 24.4 Q89.9 25.4 89.9 26.6 L89.9 42.4 Q89.9 45.0 87.3 45.0 L10.5 45.0 Q7.9 45.0 7.9 42.4 L7.9 26.6 Q7.9 25.4 8.4 24.4 L19.6 1.7 Q20.4 0.2 21.6 0.2Z" fill="#5a5a5a"/><path d="M22.2 1.0 L74.6 1.0 Q75.9 1.0 76.6 2.3 L88.2 25.3 L9.4 25.3 L20.3 2.3 Q21.0 1.0 22.2 1.0Z" fill="#8e8e8e"/><path d="M22.6 2.3 L74.2 2.3 Q75.2 2.3 75.7 3.3 L87.0 25.3 L10.5 25.3 L21.2 3.3 Q21.7 2.3 22.6 2.3Z" fill="url(#swTop)"/><path d="M9.5 25.3 L88.3 25.3 L88.3 41.6 Q88.3 43.2 86.7 43.2 L11.1 43.2 Q9.5 43.2 9.5 41.6Z" fill="url(#swFront)"/><rect x="9.5" y="25.3" width="78.8" height="0.9" fill="#cacaca" opacity="0.9"/><ellipse cx="19.3" cy="18.3" rx="2.7" ry="1.7" fill="#fff" opacity="0.7" filter="url(#blur1)"/><ellipse cx="78.6" cy="18.0" rx="2.7" ry="1.7" fill="#fff" opacity="0.7" filter="url(#blur1)"/><rect x="14.00" y="28.25" width="6.2" height="4.9" rx="1.1" fill="#eeeeee"/><rect x="15.10" y="29.25" width="4.0" height="2.9" rx="0.3" fill="#2a3234"/><rect x="22.00" y="28.25" width="6.2" height="4.9" rx="1.1" fill="#eeeeee"/><rect x="23.10" y="29.25" width="4.0" height="2.9" rx="0.3" fill="#2a3234"/><rect x="30.00" y="28.25" width="6.2" height="4.9" rx="1.1" fill="#eeeeee"/><rect x="31.10" y="29.25" width="4.0" height="2.9" rx="0.3" fill="#2a3234"/><rect x="38.00" y="28.25" width="6.2" height="4.9" rx="1.1" fill="#eeeeee"/><rect x="39.10" y="29.25" width="4.0" height="2.9" rx="0.3" fill="#2a3234"/><rect x="46.00" y="28.25" width="6.2" height="4.9" rx="1.1" fill="#eeeeee"/><rect x="47.10" y="29.25" width="4.0" height="2.9" rx="0.3" fill="#2a3234"/><rect x="14.00" y="34.45" width="6.2" height="4.9" rx="1.1" fill="#eeeeee"/><rect x="15.10" y="35.45" width="4.0" height="2.9" rx="0.3" fill="#2a3234"/><rect x="22.00" y="34.45" width="6.2" height="4.9" rx="1.1" fill="#eeeeee"/><rect x="23.10" y="35.45" width="4.0" height="2.9" rx="0.3" fill="#2a3234"/><rect x="30.00" y="34.45" width="6.2" height="4.9" rx="1.1" fill="#eeeeee"/><rect x="31.10" y="35.45" width="4.0" height="2.9" rx="0.3" fill="#2a3234"/><rect x="38.00" y="34.45" width="6.2" height="4.9" rx="1.1" fill="#eeeeee"/><rect x="39.10" y="35.45" width="4.0" height="2.9" rx="0.3" fill="#2a3234"/><rect x="46.00" y="34.45" width="6.2" height="4.9" rx="1.1" fill="#eeeeee"/><rect x="47.10" y="35.45" width="4.0" height="2.9" rx="0.3" fill="#2a3234"/><rect x="54.8" y="27.2" width="3.8" height="11.6" rx="1.9" fill="#ececec"/><circle cx="56.7" cy="29.2" r="1.2" fill="#52a21f"/><circle cx="56.7" cy="33.0" r="1.2" fill="#c5141b"/><circle cx="56.7" cy="36.8" r="1.2" fill="#52a21f"/><rect x="59.9" y="27.9" width="21.6" height="10.0" rx="0.6" fill="#f4f4f4"/><rect x="62.00" y="28.1" width="1.4" height="9.6" fill="#1e1e1e"/><rect x="65.95" y="28.1" width="1.4" height="9.6" fill="#1e1e1e"/><rect x="69.90" y="28.1" width="1.4" height="9.6" fill="#1e1e1e"/><rect x="73.85" y="28.1" width="1.4" height="9.6" fill="#1e1e1e"/><rect x="77.80" y="28.1" width="1.4" height="9.6" fill="#1e1e1e"/></g>
<g transform="translate(780.00 546.70) scale(1.0000 1.0000)"><path d="M0 41.2 C0 35.8 6 33 12 32 L84 32 C90 33 96 35.8 96 41.2 C96 47 88 51.9 80 51.9 L16 51.9 C8 51.9 0 47 0 41.2Z" fill="#838383"/><rect x="16" y="45" width="64.3" height="6.9" fill="url(#swBase)"/><path d="M21.6 0.2 L75.2 0.2 Q76.8 0.2 77.6 1.7 L89.4 24.4 Q89.9 25.4 89.9 26.6 L89.9 42.4 Q89.9 45.0 87.3 45.0 L10.5 45.0 Q7.9 45.0 7.9 42.4 L7.9 26.6 Q7.9 25.4 8.4 24.4 L19.6 1.7 Q20.4 0.2 21.6 0.2Z" fill="#5a5a5a"/><path d="M22.2 1.0 L74.6 1.0 Q75.9 1.0 76.6 2.3 L88.2 25.3 L9.4 25.3 L20.3 2.3 Q21.0 1.0 22.2 1.0Z" fill="#8e8e8e"/><path d="M22.6 2.3 L74.2 2.3 Q75.2 2.3 75.7 3.3 L87.0 25.3 L10.5 25.3 L21.2 3.3 Q21.7 2.3 22.6 2.3Z" fill="url(#swTop)"/><path d="M9.5 25.3 L88.3 25.3 L88.3 41.6 Q88.3 43.2 86.7 43.2 L11.1 43.2 Q9.5 43.2 9.5 41.6Z" fill="url(#swFront)"/><rect x="9.5" y="25.3" width="78.8" height="0.9" fill="#cacaca" opacity="0.9"/><ellipse cx="19.3" cy="18.3" rx="2.7" ry="1.7" fill="#fff" opacity="0.7" filter="url(#blur1)"/><ellipse cx="78.6" cy="18.0" rx="2.7" ry="1.7" fill="#fff" opacity="0.7" filter="url(#blur1)"/><rect x="14.00" y="28.25" width="6.2" height="4.9" rx="1.1" fill="#eeeeee"/><rect x="15.10" y="29.25" width="4.0" height="2.9" rx="0.3" fill="#2a3234"/><rect x="22.00" y="28.25" width="6.2" height="4.9" rx="1.1" fill="#eeeeee"/><rect x="23.10" y="29.25" width="4.0" height="2.9" rx="0.3" fill="#2a3234"/><rect x="30.00" y="28.25" width="6.2" height="4.9" rx="1.1" fill="#eeeeee"/><rect x="31.10" y="29.25" width="4.0" height="2.9" rx="0.3" fill="#2a3234"/><rect x="38.00" y="28.25" width="6.2" height="4.9" rx="1.1" fill="#eeeeee"/><rect x="39.10" y="29.25" width="4.0" height="2.9" rx="0.3" fill="#2a3234"/><rect x="46.00" y="28.25" width="6.2" height="4.9" rx="1.1" fill="#eeeeee"/><rect x="47.10" y="29.25" width="4.0" height="2.9" rx="0.3" fill="#2a3234"/><rect x="14.00" y="34.45" width="6.2" height="4.9" rx="1.1" fill="#eeeeee"/><rect x="15.10" y="35.45" width="4.0" height="2.9" rx="0.3" fill="#2a3234"/><rect x="22.00" y="34.45" width="6.2" height="4.9" rx="1.1" fill="#eeeeee"/><rect x="23.10" y="35.45" width="4.0" height="2.9" rx="0.3" fill="#2a3234"/><rect x="30.00" y="34.45" width="6.2" height="4.9" rx="1.1" fill="#eeeeee"/><rect x="31.10" y="35.45" width="4.0" height="2.9" rx="0.3" fill="#2a3234"/><rect x="38.00" y="34.45" width="6.2" height="4.9" rx="1.1" fill="#eeeeee"/><rect x="39.10" y="35.45" width="4.0" height="2.9" rx="0.3" fill="#2a3234"/><rect x="46.00" y="34.45" width="6.2" height="4.9" rx="1.1" fill="#eeeeee"/><rect x="47.10" y="35.45" width="4.0" height="2.9" rx="0.3" fill="#2a3234"/><rect x="54.8" y="27.2" width="3.8" height="11.6" rx="1.9" fill="#ececec"/><circle cx="56.7" cy="29.2" r="1.2" fill="#52a21f"/><circle cx="56.7" cy="33.0" r="1.2" fill="#c5141b"/><circle cx="56.7" cy="36.8" r="1.2" fill="#52a21f"/><rect x="59.9" y="27.9" width="21.6" height="10.0" rx="0.6" fill="#f4f4f4"/><rect x="62.00" y="28.1" width="1.4" height="9.6" fill="#1e1e1e"/><rect x="65.95" y="28.1" width="1.4" height="9.6" fill="#1e1e1e"/><rect x="69.90" y="28.1" width="1.4" height="9.6" fill="#1e1e1e"/><rect x="73.85" y="28.1" width="1.4" height="9.6" fill="#1e1e1e"/><rect x="77.80" y="28.1" width="1.4" height="9.6" fill="#1e1e1e"/></g>
<g transform="translate(1041.40 511.60) scale(1.0000 1.0000)"><ellipse cx="14.3" cy="41.8" rx="14.6" ry="9.4" fill="#000" fill-opacity="0.48"/><ellipse cx="34.8" cy="44.8" rx="17.2" ry="6.5" fill="#000" fill-opacity="0.48"/><path d="M9.5 16.5 C4 19 2 25 2.6 30.5 C3 33.5 6 34 9 33 L15 24Z" fill="#6e7d12"/><path d="M42 20 C47 21.5 50.6 27 50.4 33.5 L44 35 L40 24Z" fill="#3a73bd"/><circle cx="17.4" cy="9.8" r="9.6" fill="url(#hdDark)" stroke="#a87a32" stroke-width="0.5"/><circle cx="35.4" cy="11.4" r="9.3" fill="url(#hdLight)" stroke="#d8a050" stroke-width="0.5"/><path d="M8.5 24.5 C4.5 28 3.2 35 3.8 40.5 C4.3 43 7 43.5 10 43.4 L21.5 43.4 L23 28 L12 24Z" fill="url(#bdBlue)"/><path d="M17.2 30 L19.8 30 L21.5 40 L18.5 38Z" fill="#e8e8e8"/><path d="M8.6 35 L7.4 42" stroke="#27548f" stroke-width="0.9" fill="none"/><circle cx="18.8" cy="17.6" r="9.6" fill="url(#hdLight2)" stroke="#d49a48" stroke-width="0.5"/><path d="M24.5 26.5 C20.5 29.5 19.6 36 20.2 42 C20.6 44.8 23.5 45.3 27 45.3 L44 45.3 C47.5 45.3 50 44.5 50.2 41.5 C50.6 35.5 49 29.5 44.5 26.5 C38 24 30 24 24.5 26.5Z" fill="url(#bdGreen)"/><path d="M44 37 L45.6 44.5" stroke="#4f5b0a" stroke-width="0.9" fill="none"/><path d="M25.5 27.5 C30 31 39 31 43.5 27.5" stroke="#55610c" stroke-width="1.4" fill="none"/><circle cx="34.8" cy="19.2" r="9.6" fill="url(#hdDark2)" stroke="#9c6f2a" stroke-width="0.6"/></g>
<g transform="translate(10.20 740.60) scale(1.0000 1.0000)"><polygon points="0.10,31.00 11.40,23.20 38.00,29.20 38.00,31.60 26.30,41.20 0.10,33.60" fill="#aaaaaa"/><polygon points="0.10,30.90 11.40,23.20 38.00,29.20 26.30,39.00" fill="#c6c6c6"/><polygon points="7.00,29.60 13.00,25.30 34.20,30.10 29.00,34.50" fill="#a3a3a3"/><polygon points="3.20,31.20 6.60,28.90 13.60,30.60 10.60,33.00" fill="#dcdcdc"/><polygon points="18.00,35.00 21.00,32.60 29.00,34.60 26.00,37.20" fill="#dcdcdc"/><polygon points="11.20,33.20 14.00,31.00 20.40,32.60 17.40,34.90" fill="#b4b4b4"/><polygon points="12.40,0.00 39.90,5.30 38.20,29.60 11.30,23.40" fill="#b4b4b4"/><polygon points="12.60,0.60 39.40,5.80 39.30,6.90 12.50,1.70" fill="#d0d0d0"/><polygon points="13.90,2.90 37.40,7.40 36.20,26.60 12.90,21.60" fill="url(#lapScr)" stroke="#6a9be0" stroke-width="0.5"/><path d="M13.3 14.6 C19 9.0 31 9.6 36.9 15.6 L36.2 26.6 L12.9 21.6Z" fill="url(#lapGl)"/></g>
<g transform="translate(40.00 769.60) scale(1.0000 1.0000)"><polygon points="0.10,31.00 11.40,23.20 38.00,29.20 38.00,31.60 26.30,41.20 0.10,33.60" fill="#aaaaaa"/><polygon points="0.10,30.90 11.40,23.20 38.00,29.20 26.30,39.00" fill="#c6c6c6"/><polygon points="7.00,29.60 13.00,25.30 34.20,30.10 29.00,34.50" fill="#a3a3a3"/><polygon points="3.20,31.20 6.60,28.90 13.60,30.60 10.60,33.00" fill="#dcdcdc"/><polygon points="18.00,35.00 21.00,32.60 29.00,34.60 26.00,37.20" fill="#dcdcdc"/><polygon points="11.20,33.20 14.00,31.00 20.40,32.60 17.40,34.90" fill="#b4b4b4"/><polygon points="12.40,0.00 39.90,5.30 38.20,29.60 11.30,23.40" fill="#b4b4b4"/><polygon points="12.60,0.60 39.40,5.80 39.30,6.90 12.50,1.70" fill="#d0d0d0"/><polygon points="13.90,2.90 37.40,7.40 36.20,26.60 12.90,21.60" fill="url(#lapScr)" stroke="#6a9be0" stroke-width="0.5"/><path d="M13.3 14.6 C19 9.0 31 9.6 36.9 15.6 L36.2 26.6 L12.9 21.6Z" fill="url(#lapGl)"/></g>
<g transform="translate(1.40 801.00) scale(1.0000 1.0000)"><polygon points="0.10,31.00 11.40,23.20 38.00,29.20 38.00,31.60 26.30,41.20 0.10,33.60" fill="#aaaaaa"/><polygon points="0.10,30.90 11.40,23.20 38.00,29.20 26.30,39.00" fill="#c6c6c6"/><polygon points="7.00,29.60 13.00,25.30 34.20,30.10 29.00,34.50" fill="#a3a3a3"/><polygon points="3.20,31.20 6.60,28.90 13.60,30.60 10.60,33.00" fill="#dcdcdc"/><polygon points="18.00,35.00 21.00,32.60 29.00,34.60 26.00,37.20" fill="#dcdcdc"/><polygon points="11.20,33.20 14.00,31.00 20.40,32.60 17.40,34.90" fill="#b4b4b4"/><polygon points="12.40,0.00 39.90,5.30 38.20,29.60 11.30,23.40" fill="#b4b4b4"/><polygon points="12.60,0.60 39.40,5.80 39.30,6.90 12.50,1.70" fill="#d0d0d0"/><polygon points="13.90,2.90 37.40,7.40 36.20,26.60 12.90,21.60" fill="url(#lapScr)" stroke="#6a9be0" stroke-width="0.5"/><path d="M13.3 14.6 C19 9.0 31 9.6 36.9 15.6 L36.2 26.6 L12.9 21.6Z" fill="url(#lapGl)"/></g>
<g transform="translate(116.10 708.40) scale(1.0000 1.0000)"><polygon points="42.10,44.10 87.80,6.10 87.80,100.00 41.80,137.30" fill="url(#srvSide)"/><polygon points="0.10,35.90 44.60,-0.30 87.80,6.10 42.10,44.10" fill="url(#srvTop)"/><polyline points="0.10,35.90 44.60,-0.30 87.80,6.10" fill="none" stroke="#666a78" stroke-width="0.8" opacity="0.9"/><polygon points="0.10,35.90 42.10,44.10 41.80,137.30 0.10,130.10" fill="url(#srvFront)"/><polyline points="0.50,130.10 0.50,36.30 42.10,44.50" fill="none" stroke="#a9adb9" stroke-width="0.9"/><line x1="42.10" y1="44.10" x2="41.80" y2="137.30" stroke="#a6a9b5" stroke-width="1.2"/><line x1="0.10" y1="129.80" x2="41.80" y2="137.00" stroke="#9c9eaa" stroke-width="0.8"/><polygon points="6.30,43.90 34.40,48.82 34.40,52.32 6.30,47.40" fill="#767b92"/><polygon points="6.30,50.93 34.40,55.74 34.40,59.24 6.30,54.43" fill="#767b92"/><polygon points="6.30,57.96 34.40,62.65 34.40,66.15 6.30,61.46" fill="#767b92"/><polygon points="6.30,64.99 34.40,69.57 34.40,73.07 6.30,68.49" fill="#767b92"/><polygon points="6.30,72.02 34.40,76.49 34.40,79.99 6.30,75.52" fill="#767b92"/><polygon points="6.30,95.70 34.40,99.91 34.40,103.41 6.30,99.20" fill="#767b92"/><polygon points="6.30,102.75 34.40,106.85 34.40,110.35 6.30,106.25" fill="#767b92"/><polygon points="6.30,109.80 34.40,113.79 34.40,117.29 6.30,113.30" fill="#767b92"/><polygon points="6.30,116.85 34.40,120.73 34.40,124.23 6.30,120.35" fill="#767b92"/><polygon points="6.30,123.90 34.40,127.67 34.40,131.17 6.30,127.40" fill="#767b92"/><polygon points="6.00,78.80 34.60,83.21 34.60,96.51 6.00,92.10" fill="url(#srvPanel)"/><polygon points="8.30,84.10 15.70,85.20 15.70,88.80 8.30,87.70" fill="#6f8f2a" stroke="#6a8a26" stroke-width="0.5" stroke-linejoin="round"/><polygon points="9.30,85.20 14.70,86.00 14.70,87.80 9.30,87.00" fill="#a8e42c"/><polygon points="89.80,51.70 135.80,14.40 135.80,107.80 89.60,145.60" fill="url(#srvSide)"/><polygon points="48.00,44.60 92.70,8.20 135.80,14.40 89.80,51.70" fill="url(#srvTop)"/><polyline points="48.00,44.60 92.70,8.20 135.80,14.40" fill="none" stroke="#666a78" stroke-width="0.8" opacity="0.9"/><polygon points="48.00,44.60 89.80,51.70 89.60,145.60 48.00,138.50" fill="url(#srvFront)"/><polyline points="48.40,138.50 48.40,45.00 89.80,52.10" fill="none" stroke="#a9adb9" stroke-width="0.9"/><line x1="89.80" y1="51.70" x2="89.60" y2="145.60" stroke="#a6a9b5" stroke-width="1.2"/><line x1="48.00" y1="138.20" x2="89.60" y2="145.30" stroke="#9c9eaa" stroke-width="0.8"/><polygon points="54.20,52.20 82.30,57.12 82.30,60.62 54.20,55.70" fill="#767b92"/><polygon points="54.20,59.23 82.30,64.04 82.30,67.54 54.20,62.73" fill="#767b92"/><polygon points="54.20,66.26 82.30,70.95 82.30,74.45 54.20,69.76" fill="#767b92"/><polygon points="54.20,73.29 82.30,77.87 82.30,81.37 54.20,76.79" fill="#767b92"/><polygon points="54.20,80.32 82.30,84.79 82.30,88.29 54.20,83.82" fill="#767b92"/><polygon points="54.20,104.00 82.30,108.22 82.30,111.72 54.20,107.50" fill="#767b92"/><polygon points="54.20,111.05 82.30,115.15 82.30,118.65 54.20,114.55" fill="#767b92"/><polygon points="54.20,118.10 82.30,122.09 82.30,125.59 54.20,121.60" fill="#767b92"/><polygon points="54.20,125.15 82.30,129.03 82.30,132.53 54.20,128.65" fill="#767b92"/><polygon points="54.20,132.20 82.30,135.97 82.30,139.47 54.20,135.70" fill="#767b92"/><polygon points="53.90,87.10 82.50,91.51 82.50,104.81 53.90,100.40" fill="url(#srvPanel)"/><polygon points="56.20,92.40 63.60,93.50 63.60,97.10 56.20,96.00" fill="#6f8f2a" stroke="#6a8a26" stroke-width="0.5" stroke-linejoin="round"/><polygon points="57.20,93.50 62.60,94.30 62.60,96.10 57.20,95.30" fill="#a8e42c"/></g>
<g transform="translate(280.00 708.40) scale(1.0000 1.0000)"><polygon points="65.50,49.54 88.80,35.74 88.80,132.64 65.50,144.14" fill="#f98523" stroke="#1a0d00" stroke-width="0.8" stroke-linejoin="round"/><polygon points="0.90,14.40 22.80,0.30 88.80,35.74 65.50,49.54" fill="#f98523" stroke="#000" stroke-width="0.95" stroke-linejoin="round"/><polygon points="0.90,14.40 65.50,49.54 65.50,144.14 0.70,109.00" fill="#f98523" stroke="#1a0d00" stroke-width="0.8" stroke-linejoin="round"/><path d="M1.90 17.13L63.90 50.70M1.90 32.33L63.90 65.90M1.90 47.93L63.90 81.50M1.90 62.73L63.90 96.30M1.90 78.73L63.90 112.30M1.90 93.93L63.90 127.50M1.90 107.73L63.90 141.30M1.90 17.13L1.90 107.73M63.90 50.70L63.90 141.30M15.70 24.60L15.30 39.80M29.50 47.27L29.10 62.87M15.00 55.02L14.60 69.82M35.30 80.81L34.90 96.81M15.00 85.82L14.60 101.02M48.10 103.74L47.70 118.94" fill="none" stroke="#ffc78a" stroke-width="0.95"/><polyline points="0.70,109.00 0.90,14.40 65.50,49.54" fill="none" stroke="#000" stroke-width="1.05" stroke-linejoin="round"/><line x1="65.50" y1="49.54" x2="65.50" y2="144.14" stroke="#000" stroke-width="1.0"/><polygon points="111.20,49.54 134.50,35.74 134.50,132.64 111.20,144.14" fill="#f98523" stroke="#1a0d00" stroke-width="0.8" stroke-linejoin="round"/><polygon points="46.60,14.40 68.50,0.30 134.50,35.74 111.20,49.54" fill="#f98523" stroke="#000" stroke-width="0.95" stroke-linejoin="round"/><polygon points="46.60,14.40 111.20,49.54 111.20,144.14 46.40,109.00" fill="#f98523" stroke="#1a0d00" stroke-width="0.8" stroke-linejoin="round"/><path d="M47.60 17.13L109.60 50.70M47.60 32.33L109.60 65.90M47.60 47.93L109.60 81.50M47.60 62.73L109.60 96.30M47.60 78.73L109.60 112.30M47.60 93.93L109.60 127.50M47.60 107.73L109.60 141.30M47.60 17.13L47.60 107.73M109.60 50.70L109.60 141.30M60.90 24.33L60.50 39.53M96.10 43.39L95.70 58.59M75.30 47.33L74.90 62.93M60.40 54.86L60.00 69.66M94.30 73.21L93.90 88.01M80.30 80.43L79.90 96.43M60.40 85.66L60.00 100.86M94.30 104.01L93.90 119.21" fill="none" stroke="#ffc78a" stroke-width="0.95"/><polyline points="46.40,109.00 46.60,14.40 111.20,49.54" fill="none" stroke="#000" stroke-width="1.05" stroke-linejoin="round"/><line x1="111.20" y1="49.54" x2="111.20" y2="144.14" stroke="#000" stroke-width="1.0"/></g>
<g transform="translate(797.00 755.20) scale(1.0000 1.0000)"><path d="M0 41.2 C0 35.8 6 33 12 32 L84 32 C90 33 96 35.8 96 41.2 C96 47 88 51.9 80 51.9 L16 51.9 C8 51.9 0 47 0 41.2Z" fill="#838383"/><rect x="16" y="45" width="64.3" height="6.9" fill="url(#swBase)"/><path d="M21.6 0.2 L75.2 0.2 Q76.8 0.2 77.6 1.7 L89.4 24.4 Q89.9 25.4 89.9 26.6 L89.9 42.4 Q89.9 45.0 87.3 45.0 L10.5 45.0 Q7.9 45.0 7.9 42.4 L7.9 26.6 Q7.9 25.4 8.4 24.4 L19.6 1.7 Q20.4 0.2 21.6 0.2Z" fill="#5a5a5a"/><path d="M22.2 1.0 L74.6 1.0 Q75.9 1.0 76.6 2.3 L88.2 25.3 L9.4 25.3 L20.3 2.3 Q21.0 1.0 22.2 1.0Z" fill="#8e8e8e"/><path d="M22.6 2.3 L74.2 2.3 Q75.2 2.3 75.7 3.3 L87.0 25.3 L10.5 25.3 L21.2 3.3 Q21.7 2.3 22.6 2.3Z" fill="url(#swTop)"/><path d="M9.5 25.3 L88.3 25.3 L88.3 41.6 Q88.3 43.2 86.7 43.2 L11.1 43.2 Q9.5 43.2 9.5 41.6Z" fill="url(#swFront)"/><rect x="9.5" y="25.3" width="78.8" height="0.9" fill="#cacaca" opacity="0.9"/><ellipse cx="19.3" cy="18.3" rx="2.7" ry="1.7" fill="#fff" opacity="0.7" filter="url(#blur1)"/><ellipse cx="78.6" cy="18.0" rx="2.7" ry="1.7" fill="#fff" opacity="0.7" filter="url(#blur1)"/><rect x="14.00" y="28.25" width="6.2" height="4.9" rx="1.1" fill="#eeeeee"/><rect x="15.10" y="29.25" width="4.0" height="2.9" rx="0.3" fill="#2a3234"/><rect x="22.00" y="28.25" width="6.2" height="4.9" rx="1.1" fill="#eeeeee"/><rect x="23.10" y="29.25" width="4.0" height="2.9" rx="0.3" fill="#2a3234"/><rect x="30.00" y="28.25" width="6.2" height="4.9" rx="1.1" fill="#eeeeee"/><rect x="31.10" y="29.25" width="4.0" height="2.9" rx="0.3" fill="#2a3234"/><rect x="38.00" y="28.25" width="6.2" height="4.9" rx="1.1" fill="#eeeeee"/><rect x="39.10" y="29.25" width="4.0" height="2.9" rx="0.3" fill="#2a3234"/><rect x="46.00" y="28.25" width="6.2" height="4.9" rx="1.1" fill="#eeeeee"/><rect x="47.10" y="29.25" width="4.0" height="2.9" rx="0.3" fill="#2a3234"/><rect x="14.00" y="34.45" width="6.2" height="4.9" rx="1.1" fill="#eeeeee"/><rect x="15.10" y="35.45" width="4.0" height="2.9" rx="0.3" fill="#2a3234"/><rect x="22.00" y="34.45" width="6.2" height="4.9" rx="1.1" fill="#eeeeee"/><rect x="23.10" y="35.45" width="4.0" height="2.9" rx="0.3" fill="#2a3234"/><rect x="30.00" y="34.45" width="6.2" height="4.9" rx="1.1" fill="#eeeeee"/><rect x="31.10" y="35.45" width="4.0" height="2.9" rx="0.3" fill="#2a3234"/><rect x="38.00" y="34.45" width="6.2" height="4.9" rx="1.1" fill="#eeeeee"/><rect x="39.10" y="35.45" width="4.0" height="2.9" rx="0.3" fill="#2a3234"/><rect x="46.00" y="34.45" width="6.2" height="4.9" rx="1.1" fill="#eeeeee"/><rect x="47.10" y="35.45" width="4.0" height="2.9" rx="0.3" fill="#2a3234"/><rect x="54.8" y="27.2" width="3.8" height="11.6" rx="1.9" fill="#ececec"/><circle cx="56.7" cy="29.2" r="1.2" fill="#52a21f"/><circle cx="56.7" cy="33.0" r="1.2" fill="#c5141b"/><circle cx="56.7" cy="36.8" r="1.2" fill="#52a21f"/><rect x="59.9" y="27.9" width="21.6" height="10.0" rx="0.6" fill="#f4f4f4"/><rect x="62.00" y="28.1" width="1.4" height="9.6" fill="#1e1e1e"/><rect x="65.95" y="28.1" width="1.4" height="9.6" fill="#1e1e1e"/><rect x="69.90" y="28.1" width="1.4" height="9.6" fill="#1e1e1e"/><rect x="73.85" y="28.1" width="1.4" height="9.6" fill="#1e1e1e"/><rect x="77.80" y="28.1" width="1.4" height="9.6" fill="#1e1e1e"/></g>
<g transform="translate(787.00 852.20) scale(1.0000 1.0000)"><path d="M0 41.2 C0 35.8 6 33 12 32 L84 32 C90 33 96 35.8 96 41.2 C96 47 88 51.9 80 51.9 L16 51.9 C8 51.9 0 47 0 41.2Z" fill="#838383"/><rect x="16" y="45" width="64.3" height="6.9" fill="url(#swBase)"/><path d="M21.6 0.2 L75.2 0.2 Q76.8 0.2 77.6 1.7 L89.4 24.4 Q89.9 25.4 89.9 26.6 L89.9 42.4 Q89.9 45.0 87.3 45.0 L10.5 45.0 Q7.9 45.0 7.9 42.4 L7.9 26.6 Q7.9 25.4 8.4 24.4 L19.6 1.7 Q20.4 0.2 21.6 0.2Z" fill="#5a5a5a"/><path d="M22.2 1.0 L74.6 1.0 Q75.9 1.0 76.6 2.3 L88.2 25.3 L9.4 25.3 L20.3 2.3 Q21.0 1.0 22.2 1.0Z" fill="#8e8e8e"/><path d="M22.6 2.3 L74.2 2.3 Q75.2 2.3 75.7 3.3 L87.0 25.3 L10.5 25.3 L21.2 3.3 Q21.7 2.3 22.6 2.3Z" fill="url(#swTop)"/><path d="M9.5 25.3 L88.3 25.3 L88.3 41.6 Q88.3 43.2 86.7 43.2 L11.1 43.2 Q9.5 43.2 9.5 41.6Z" fill="url(#swFront)"/><rect x="9.5" y="25.3" width="78.8" height="0.9" fill="#cacaca" opacity="0.9"/><ellipse cx="19.3" cy="18.3" rx="2.7" ry="1.7" fill="#fff" opacity="0.7" filter="url(#blur1)"/><ellipse cx="78.6" cy="18.0" rx="2.7" ry="1.7" fill="#fff" opacity="0.7" filter="url(#blur1)"/><rect x="14.00" y="28.25" width="6.2" height="4.9" rx="1.1" fill="#eeeeee"/><rect x="15.10" y="29.25" width="4.0" height="2.9" rx="0.3" fill="#2a3234"/><rect x="22.00" y="28.25" width="6.2" height="4.9" rx="1.1" fill="#eeeeee"/><rect x="23.10" y="29.25" width="4.0" height="2.9" rx="0.3" fill="#2a3234"/><rect x="30.00" y="28.25" width="6.2" height="4.9" rx="1.1" fill="#eeeeee"/><rect x="31.10" y="29.25" width="4.0" height="2.9" rx="0.3" fill="#2a3234"/><rect x="38.00" y="28.25" width="6.2" height="4.9" rx="1.1" fill="#eeeeee"/><rect x="39.10" y="29.25" width="4.0" height="2.9" rx="0.3" fill="#2a3234"/><rect x="46.00" y="28.25" width="6.2" height="4.9" rx="1.1" fill="#eeeeee"/><rect x="47.10" y="29.25" width="4.0" height="2.9" rx="0.3" fill="#2a3234"/><rect x="14.00" y="34.45" width="6.2" height="4.9" rx="1.1" fill="#eeeeee"/><rect x="15.10" y="35.45" width="4.0" height="2.9" rx="0.3" fill="#2a3234"/><rect x="22.00" y="34.45" width="6.2" height="4.9" rx="1.1" fill="#eeeeee"/><rect x="23.10" y="35.45" width="4.0" height="2.9" rx="0.3" fill="#2a3234"/><rect x="30.00" y="34.45" width="6.2" height="4.9" rx="1.1" fill="#eeeeee"/><rect x="31.10" y="35.45" width="4.0" height="2.9" rx="0.3" fill="#2a3234"/><rect x="38.00" y="34.45" width="6.2" height="4.9" rx="1.1" fill="#eeeeee"/><rect x="39.10" y="35.45" width="4.0" height="2.9" rx="0.3" fill="#2a3234"/><rect x="46.00" y="34.45" width="6.2" height="4.9" rx="1.1" fill="#eeeeee"/><rect x="47.10" y="35.45" width="4.0" height="2.9" rx="0.3" fill="#2a3234"/><rect x="54.8" y="27.2" width="3.8" height="11.6" rx="1.9" fill="#ececec"/><circle cx="56.7" cy="29.2" r="1.2" fill="#52a21f"/><circle cx="56.7" cy="33.0" r="1.2" fill="#c5141b"/><circle cx="56.7" cy="36.8" r="1.2" fill="#52a21f"/><rect x="59.9" y="27.9" width="21.6" height="10.0" rx="0.6" fill="#f4f4f4"/><rect x="62.00" y="28.1" width="1.4" height="9.6" fill="#1e1e1e"/><rect x="65.95" y="28.1" width="1.4" height="9.6" fill="#1e1e1e"/><rect x="69.90" y="28.1" width="1.4" height="9.6" fill="#1e1e1e"/><rect x="73.85" y="28.1" width="1.4" height="9.6" fill="#1e1e1e"/><rect x="77.80" y="28.1" width="1.4" height="9.6" fill="#1e1e1e"/></g>
<g transform="translate(1038.00 770.60) scale(1.0000 1.0000)"><ellipse cx="14.3" cy="41.8" rx="14.6" ry="9.4" fill="#000" fill-opacity="0.48"/><ellipse cx="34.8" cy="44.8" rx="17.2" ry="6.5" fill="#000" fill-opacity="0.48"/><path d="M9.5 16.5 C4 19 2 25 2.6 30.5 C3 33.5 6 34 9 33 L15 24Z" fill="#6e7d12"/><path d="M42 20 C47 21.5 50.6 27 50.4 33.5 L44 35 L40 24Z" fill="#3a73bd"/><circle cx="17.4" cy="9.8" r="9.6" fill="url(#hdDark)" stroke="#a87a32" stroke-width="0.5"/><circle cx="35.4" cy="11.4" r="9.3" fill="url(#hdLight)" stroke="#d8a050" stroke-width="0.5"/><path d="M8.5 24.5 C4.5 28 3.2 35 3.8 40.5 C4.3 43 7 43.5 10 43.4 L21.5 43.4 L23 28 L12 24Z" fill="url(#bdBlue)"/><path d="M17.2 30 L19.8 30 L21.5 40 L18.5 38Z" fill="#e8e8e8"/><path d="M8.6 35 L7.4 42" stroke="#27548f" stroke-width="0.9" fill="none"/><circle cx="18.8" cy="17.6" r="9.6" fill="url(#hdLight2)" stroke="#d49a48" stroke-width="0.5"/><path d="M24.5 26.5 C20.5 29.5 19.6 36 20.2 42 C20.6 44.8 23.5 45.3 27 45.3 L44 45.3 C47.5 45.3 50 44.5 50.2 41.5 C50.6 35.5 49 29.5 44.5 26.5 C38 24 30 24 24.5 26.5Z" fill="url(#bdGreen)"/><path d="M44 37 L45.6 44.5" stroke="#4f5b0a" stroke-width="0.9" fill="none"/><path d="M25.5 27.5 C30 31 39 31 43.5 27.5" stroke="#55610c" stroke-width="1.4" fill="none"/><circle cx="34.8" cy="19.2" r="9.6" fill="url(#hdDark2)" stroke="#9c6f2a" stroke-width="0.6"/></g>
<g transform="translate(1039.80 836.40) scale(1.0000 1.0000)"><ellipse cx="21.2" cy="48.8" rx="21" ry="6.8" fill="#808080"/><path d="M10.5 27.5 C4.5 32 2.6 40 3.6 46 C4.2 48.8 7 49.6 10 49.6 L32.5 49.6 C35.5 49.6 38.4 48.8 39 46 C40 40 38 32 32 27.5 C25.5 25 17 25 10.5 27.5Z" fill="url(#spyBody)"/><path d="M9.6 40 L7.6 48" stroke="#3c3c3c" stroke-width="1.1" fill="none"/><path d="M33 40 L35 48" stroke="#3c3c3c" stroke-width="1.1" fill="none"/><ellipse cx="21.4" cy="21.4" rx="12" ry="9.8" fill="url(#spyHead)"/><path d="M10.4 27.6 C11.5 31.5 15 34.5 18.6 35.2 L21.2 33 L23.8 35.2 C27.5 34.5 31 31.5 31.8 27.4 L30 29.5 C27.5 32 24 33 21.2 33 C18 33 14.5 32 12 29.5Z" fill="#454545"/><path d="M18.9 36.2 L23.5 36.2 L21.6 44.8 L20.8 44.8Z" fill="#e4e4e4"/><ellipse cx="18.2" cy="20.2" rx="3.4" ry="2.3" transform="rotate(22 18.2 20.2)" fill="#050505"/><ellipse cx="26.4" cy="19.8" rx="3.4" ry="2.3" transform="rotate(-22 26.4 19.8)" fill="#050505"/><circle cx="19.4" cy="19.6" r="0.7" fill="#ddd"/><circle cx="27.6" cy="19.3" r="0.7" fill="#ddd"/><ellipse cx="19.6" cy="13.6" rx="19.6" ry="4.6" transform="rotate(-14 19.6 13.6)" fill="#f1f1f1" stroke="#dcdcdc" stroke-width="0.4"/><path d="M11.2 12.8 C10.6 8 10.8 4.2 11.8 2.6 C13.5 1.6 16 3.2 17.6 2.4 C19 1.2 20 0.2 21.2 0.4 C22.6 3 24.6 7 25.8 10.4 C21 12.6 16 13.4 11.2 12.8Z" fill="#f7f7f7" stroke="#d9d9d9" stroke-width="0.4"/><path d="M11.2 10.6 C16 10.6 21 9.4 25 7.6" stroke="#d6d6d6" stroke-width="0.6" fill="none"/></g>
<g transform="translate(839.50 1034.00) scale(1.0000 1.0000)"><path d="M4.6 0.8 C8 -0.3 18.5 -0.3 21.9 0.8 C24 1.5 24.8 3 25 5.5 L26.4 17.5 L26.4 29.2 L24.4 29.2 L24.4 32.2 Q24.4 34 22.6 34 L21.4 34 Q19.6 34 19.6 32.2 L19.6 29.2 L6.9 29.2 L6.9 32.2 Q6.9 34 5.1 34 L3.9 34 Q2.1 34 2.1 32.2 L2.1 29.2 L0.1 29.2 L0.1 17.5 L1.5 5.5 C1.7 3 2.5 1.5 4.6 0.8Z" fill="#000"/><rect x="7.2" y="2.6" width="12.2" height="2.2" rx="1.1" fill="url(#busWin)"/><path d="M4.4 6.8 L22.1 6.8 L23.8 16.4 L2.7 16.4Z" fill="url(#busWin)"/><circle cx="4.6" cy="23.4" r="1.9" fill="#eadcbc"/><circle cx="21.9" cy="23.4" r="1.9" fill="#eadcbc"/></g>
<g transform="translate(0.00 1006.40) scale(1.1050 1.1050)"><polygon points="0.10,31.00 11.40,23.20 38.00,29.20 38.00,31.60 26.30,41.20 0.10,33.60" fill="#aaaaaa"/><polygon points="0.10,30.90 11.40,23.20 38.00,29.20 26.30,39.00" fill="#c6c6c6"/><polygon points="7.00,29.60 13.00,25.30 34.20,30.10 29.00,34.50" fill="#a3a3a3"/><polygon points="3.20,31.20 6.60,28.90 13.60,30.60 10.60,33.00" fill="#dcdcdc"/><polygon points="18.00,35.00 21.00,32.60 29.00,34.60 26.00,37.20" fill="#dcdcdc"/><polygon points="11.20,33.20 14.00,31.00 20.40,32.60 17.40,34.90" fill="#b4b4b4"/><polygon points="12.40,0.00 39.90,5.30 38.20,29.60 11.30,23.40" fill="#b4b4b4"/><polygon points="12.60,0.60 39.40,5.80 39.30,6.90 12.50,1.70" fill="#d0d0d0"/><polygon points="13.90,2.90 37.40,7.40 36.20,26.60 12.90,21.60" fill="url(#lapScr)" stroke="#6a9be0" stroke-width="0.5"/><path d="M13.3 14.6 C19 9.0 31 9.6 36.9 15.6 L36.2 26.6 L12.9 21.6Z" fill="url(#lapGl)"/></g>
<g transform="translate(34.00 1035.60) scale(1.1050 1.1050)"><polygon points="0.10,31.00 11.40,23.20 38.00,29.20 38.00,31.60 26.30,41.20 0.10,33.60" fill="#aaaaaa"/><polygon points="0.10,30.90 11.40,23.20 38.00,29.20 26.30,39.00" fill="#c6c6c6"/><polygon points="7.00,29.60 13.00,25.30 34.20,30.10 29.00,34.50" fill="#a3a3a3"/><polygon points="3.20,31.20 6.60,28.90 13.60,30.60 10.60,33.00" fill="#dcdcdc"/><polygon points="18.00,35.00 21.00,32.60 29.00,34.60 26.00,37.20" fill="#dcdcdc"/><polygon points="11.20,33.20 14.00,31.00 20.40,32.60 17.40,34.90" fill="#b4b4b4"/><polygon points="12.40,0.00 39.90,5.30 38.20,29.60 11.30,23.40" fill="#b4b4b4"/><polygon points="12.60,0.60 39.40,5.80 39.30,6.90 12.50,1.70" fill="#d0d0d0"/><polygon points="13.90,2.90 37.40,7.40 36.20,26.60 12.90,21.60" fill="url(#lapScr)" stroke="#6a9be0" stroke-width="0.5"/><path d="M13.3 14.6 C19 9.0 31 9.6 36.9 15.6 L36.2 26.6 L12.9 21.6Z" fill="url(#lapGl)"/></g>
<g transform="translate(0.00 1080.00) scale(1.1050 1.1050)"><polygon points="0.10,31.00 11.40,23.20 38.00,29.20 38.00,31.60 26.30,41.20 0.10,33.60" fill="#aaaaaa"/><polygon points="0.10,30.90 11.40,23.20 38.00,29.20 26.30,39.00" fill="#c6c6c6"/><polygon points="7.00,29.60 13.00,25.30 34.20,30.10 29.00,34.50" fill="#a3a3a3"/><polygon points="3.20,31.20 6.60,28.90 13.60,30.60 10.60,33.00" fill="#dcdcdc"/><polygon points="18.00,35.00 21.00,32.60 29.00,34.60 26.00,37.20" fill="#dcdcdc"/><polygon points="11.20,33.20 14.00,31.00 20.40,32.60 17.40,34.90" fill="#b4b4b4"/><polygon points="12.40,0.00 39.90,5.30 38.20,29.60 11.30,23.40" fill="#b4b4b4"/><polygon points="12.60,0.60 39.40,5.80 39.30,6.90 12.50,1.70" fill="#d0d0d0"/><polygon points="13.90,2.90 37.40,7.40 36.20,26.60 12.90,21.60" fill="url(#lapScr)" stroke="#6a9be0" stroke-width="0.5"/><path d="M13.3 14.6 C19 9.0 31 9.6 36.9 15.6 L36.2 26.6 L12.9 21.6Z" fill="url(#lapGl)"/></g>
<g transform="translate(109.70 964.00) scale(1.1070 1.1070)"><polygon points="42.10,44.10 87.80,6.10 87.80,100.00 41.80,137.30" fill="url(#srvSide)"/><polygon points="0.10,35.90 44.60,-0.30 87.80,6.10 42.10,44.10" fill="url(#srvTop)"/><polyline points="0.10,35.90 44.60,-0.30 87.80,6.10" fill="none" stroke="#666a78" stroke-width="0.8" opacity="0.9"/><polygon points="0.10,35.90 42.10,44.10 41.80,137.30 0.10,130.10" fill="url(#srvFront)"/><polyline points="0.50,130.10 0.50,36.30 42.10,44.50" fill="none" stroke="#a9adb9" stroke-width="0.9"/><line x1="42.10" y1="44.10" x2="41.80" y2="137.30" stroke="#a6a9b5" stroke-width="1.2"/><line x1="0.10" y1="129.80" x2="41.80" y2="137.00" stroke="#9c9eaa" stroke-width="0.8"/><polygon points="6.30,43.90 34.40,48.82 34.40,52.32 6.30,47.40" fill="#767b92"/><polygon points="6.30,50.93 34.40,55.74 34.40,59.24 6.30,54.43" fill="#767b92"/><polygon points="6.30,57.96 34.40,62.65 34.40,66.15 6.30,61.46" fill="#767b92"/><polygon points="6.30,64.99 34.40,69.57 34.40,73.07 6.30,68.49" fill="#767b92"/><polygon points="6.30,72.02 34.40,76.49 34.40,79.99 6.30,75.52" fill="#767b92"/><polygon points="6.30,95.70 34.40,99.91 34.40,103.41 6.30,99.20" fill="#767b92"/><polygon points="6.30,102.75 34.40,106.85 34.40,110.35 6.30,106.25" fill="#767b92"/><polygon points="6.30,109.80 34.40,113.79 34.40,117.29 6.30,113.30" fill="#767b92"/><polygon points="6.30,116.85 34.40,120.73 34.40,124.23 6.30,120.35" fill="#767b92"/><polygon points="6.30,123.90 34.40,127.67 34.40,131.17 6.30,127.40" fill="#767b92"/><polygon points="6.00,78.80 34.60,83.21 34.60,96.51 6.00,92.10" fill="url(#srvPanel)"/><polygon points="8.30,84.10 15.70,85.20 15.70,88.80 8.30,87.70" fill="#6f8f2a" stroke="#6a8a26" stroke-width="0.5" stroke-linejoin="round"/><polygon points="9.30,85.20 14.70,86.00 14.70,87.80 9.30,87.00" fill="#a8e42c"/><polygon points="89.80,51.70 135.80,14.40 135.80,107.80 89.60,145.60" fill="url(#srvSide)"/><polygon points="48.00,44.60 92.70,8.20 135.80,14.40 89.80,51.70" fill="url(#srvTop)"/><polyline points="48.00,44.60 92.70,8.20 135.80,14.40" fill="none" stroke="#666a78" stroke-width="0.8" opacity="0.9"/><polygon points="48.00,44.60 89.80,51.70 89.60,145.60 48.00,138.50" fill="url(#srvFront)"/><polyline points="48.40,138.50 48.40,45.00 89.80,52.10" fill="none" stroke="#a9adb9" stroke-width="0.9"/><line x1="89.80" y1="51.70" x2="89.60" y2="145.60" stroke="#a6a9b5" stroke-width="1.2"/><line x1="48.00" y1="138.20" x2="89.60" y2="145.30" stroke="#9c9eaa" stroke-width="0.8"/><polygon points="54.20,52.20 82.30,57.12 82.30,60.62 54.20,55.70" fill="#767b92"/><polygon points="54.20,59.23 82.30,64.04 82.30,67.54 54.20,62.73" fill="#767b92"/><polygon points="54.20,66.26 82.30,70.95 82.30,74.45 54.20,69.76" fill="#767b92"/><polygon points="54.20,73.29 82.30,77.87 82.30,81.37 54.20,76.79" fill="#767b92"/><polygon points="54.20,80.32 82.30,84.79 82.30,88.29 54.20,83.82" fill="#767b92"/><polygon points="54.20,104.00 82.30,108.22 82.30,111.72 54.20,107.50" fill="#767b92"/><polygon points="54.20,111.05 82.30,115.15 82.30,118.65 54.20,114.55" fill="#767b92"/><polygon points="54.20,118.10 82.30,122.09 82.30,125.59 54.20,121.60" fill="#767b92"/><polygon points="54.20,125.15 82.30,129.03 82.30,132.53 54.20,128.65" fill="#767b92"/><polygon points="54.20,132.20 82.30,135.97 82.30,139.47 54.20,135.70" fill="#767b92"/><polygon points="53.90,87.10 82.50,91.51 82.50,104.81 53.90,100.40" fill="url(#srvPanel)"/><polygon points="56.20,92.40 63.60,93.50 63.60,97.10 56.20,96.00" fill="#6f8f2a" stroke="#6a8a26" stroke-width="0.5" stroke-linejoin="round"/><polygon points="57.20,93.50 62.60,94.30 62.60,96.10 57.20,95.30" fill="#a8e42c"/></g>
<g transform="translate(307.10 961.40) scale(1.1080 1.1080)"><polygon points="65.50,49.54 88.80,35.74 88.80,132.64 65.50,144.14" fill="#f98523" stroke="#1a0d00" stroke-width="0.8" stroke-linejoin="round"/><polygon points="0.90,14.40 22.80,0.30 88.80,35.74 65.50,49.54" fill="#f98523" stroke="#000" stroke-width="0.95" stroke-linejoin="round"/><polygon points="0.90,14.40 65.50,49.54 65.50,144.14 0.70,109.00" fill="#f98523" stroke="#1a0d00" stroke-width="0.8" stroke-linejoin="round"/><path d="M1.90 17.13L63.90 50.70M1.90 32.33L63.90 65.90M1.90 47.93L63.90 81.50M1.90 62.73L63.90 96.30M1.90 78.73L63.90 112.30M1.90 93.93L63.90 127.50M1.90 107.73L63.90 141.30M1.90 17.13L1.90 107.73M63.90 50.70L63.90 141.30M15.70 24.60L15.30 39.80M29.50 47.27L29.10 62.87M15.00 55.02L14.60 69.82M35.30 80.81L34.90 96.81M15.00 85.82L14.60 101.02M48.10 103.74L47.70 118.94" fill="none" stroke="#ffc78a" stroke-width="0.95"/><polyline points="0.70,109.00 0.90,14.40 65.50,49.54" fill="none" stroke="#000" stroke-width="1.05" stroke-linejoin="round"/><line x1="65.50" y1="49.54" x2="65.50" y2="144.14" stroke="#000" stroke-width="1.0"/><polygon points="111.20,49.54 134.50,35.74 134.50,132.64 111.20,144.14" fill="#f98523" stroke="#1a0d00" stroke-width="0.8" stroke-linejoin="round"/><polygon points="46.60,14.40 68.50,0.30 134.50,35.74 111.20,49.54" fill="#f98523" stroke="#000" stroke-width="0.95" stroke-linejoin="round"/><polygon points="46.60,14.40 111.20,49.54 111.20,144.14 46.40,109.00" fill="#f98523" stroke="#1a0d00" stroke-width="0.8" stroke-linejoin="round"/><path d="M47.60 17.13L109.60 50.70M47.60 32.33L109.60 65.90M47.60 47.93L109.60 81.50M47.60 62.73L109.60 96.30M47.60 78.73L109.60 112.30M47.60 93.93L109.60 127.50M47.60 107.73L109.60 141.30M47.60 17.13L47.60 107.73M109.60 50.70L109.60 141.30M60.90 24.33L60.50 39.53M96.10 43.39L95.70 58.59M75.30 47.33L74.90 62.93M60.40 54.86L60.00 69.66M94.30 73.21L93.90 88.01M80.30 80.43L79.90 96.43M60.40 85.66L60.00 100.86M94.30 104.01L93.90 119.21" fill="none" stroke="#ffc78a" stroke-width="0.95"/><polyline points="46.40,109.00 46.60,14.40 111.20,49.54" fill="none" stroke="#000" stroke-width="1.05" stroke-linejoin="round"/><line x1="111.20" y1="49.54" x2="111.20" y2="144.14" stroke="#000" stroke-width="1.0"/></g>
<g transform="translate(876.30 977.20) scale(1.1110 1.1110)"><polygon points="65.50,49.54 88.80,35.74 88.80,132.64 65.50,144.14" fill="#f98523" stroke="#1a0d00" stroke-width="0.8" stroke-linejoin="round"/><polygon points="0.90,14.40 22.80,0.30 88.80,35.74 65.50,49.54" fill="#f98523" stroke="#000" stroke-width="0.95" stroke-linejoin="round"/><polygon points="0.90,14.40 65.50,49.54 65.50,144.14 0.70,109.00" fill="#f98523" stroke="#1a0d00" stroke-width="0.8" stroke-linejoin="round"/><path d="M1.90 17.13L63.90 50.70M1.90 32.33L63.90 65.90M1.90 47.93L63.90 81.50M1.90 62.73L63.90 96.30M1.90 78.73L63.90 112.30M1.90 93.93L63.90 127.50M1.90 107.73L63.90 141.30M1.90 17.13L1.90 107.73M63.90 50.70L63.90 141.30M15.70 24.60L15.30 39.80M29.50 47.27L29.10 62.87M15.00 55.02L14.60 69.82M35.30 80.81L34.90 96.81M15.00 85.82L14.60 101.02M48.10 103.74L47.70 118.94" fill="none" stroke="#ffc78a" stroke-width="0.95"/><polyline points="0.70,109.00 0.90,14.40 65.50,49.54" fill="none" stroke="#000" stroke-width="1.05" stroke-linejoin="round"/><line x1="65.50" y1="49.54" x2="65.50" y2="144.14" stroke="#000" stroke-width="1.0"/><polygon points="111.20,49.54 134.50,35.74 134.50,132.64 111.20,144.14" fill="#f98523" stroke="#1a0d00" stroke-width="0.8" stroke-linejoin="round"/><polygon points="46.60,14.40 68.50,0.30 134.50,35.74 111.20,49.54" fill="#f98523" stroke="#000" stroke-width="0.95" stroke-linejoin="round"/><polygon points="46.60,14.40 111.20,49.54 111.20,144.14 46.40,109.00" fill="#f98523" stroke="#1a0d00" stroke-width="0.8" stroke-linejoin="round"/><path d="M47.60 17.13L109.60 50.70M47.60 32.33L109.60 65.90M47.60 47.93L109.60 81.50M47.60 62.73L109.60 96.30M47.60 78.73L109.60 112.30M47.60 93.93L109.60 127.50M47.60 107.73L109.60 141.30M47.60 17.13L47.60 107.73M109.60 50.70L109.60 141.30M60.90 24.33L60.50 39.53M96.10 43.39L95.70 58.59M75.30 47.33L74.90 62.93M60.40 54.86L60.00 69.66M94.30 73.21L93.90 88.01M80.30 80.43L79.90 96.43M60.40 85.66L60.00 100.86M94.30 104.01L93.90 119.21" fill="none" stroke="#ffc78a" stroke-width="0.95"/><polyline points="46.40,109.00 46.60,14.40 111.20,49.54" fill="none" stroke="#000" stroke-width="1.05" stroke-linejoin="round"/><line x1="111.20" y1="49.54" x2="111.20" y2="144.14" stroke="#000" stroke-width="1.0"/></g>
<g transform="translate(1056.00 938.20) scale(1.1130 1.1130)"><path d="M0 41.2 C0 35.8 6 33 12 32 L84 32 C90 33 96 35.8 96 41.2 C96 47 88 51.9 80 51.9 L16 51.9 C8 51.9 0 47 0 41.2Z" fill="#838383"/><rect x="16" y="45" width="64.3" height="6.9" fill="url(#swBase)"/><path d="M21.6 0.2 L75.2 0.2 Q76.8 0.2 77.6 1.7 L89.4 24.4 Q89.9 25.4 89.9 26.6 L89.9 42.4 Q89.9 45.0 87.3 45.0 L10.5 45.0 Q7.9 45.0 7.9 42.4 L7.9 26.6 Q7.9 25.4 8.4 24.4 L19.6 1.7 Q20.4 0.2 21.6 0.2Z" fill="#5a5a5a"/><path d="M22.2 1.0 L74.6 1.0 Q75.9 1.0 76.6 2.3 L88.2 25.3 L9.4 25.3 L20.3 2.3 Q21.0 1.0 22.2 1.0Z" fill="#8e8e8e"/><path d="M22.6 2.3 L74.2 2.3 Q75.2 2.3 75.7 3.3 L87.0 25.3 L10.5 25.3 L21.2 3.3 Q21.7 2.3 22.6 2.3Z" fill="url(#swTop)"/><path d="M9.5 25.3 L88.3 25.3 L88.3 41.6 Q88.3 43.2 86.7 43.2 L11.1 43.2 Q9.5 43.2 9.5 41.6Z" fill="url(#swFront)"/><rect x="9.5" y="25.3" width="78.8" height="0.9" fill="#cacaca" opacity="0.9"/><ellipse cx="19.3" cy="18.3" rx="2.7" ry="1.7" fill="#fff" opacity="0.7" filter="url(#blur1)"/><ellipse cx="78.6" cy="18.0" rx="2.7" ry="1.7" fill="#fff" opacity="0.7" filter="url(#blur1)"/><rect x="14.00" y="28.25" width="6.2" height="4.9" rx="1.1" fill="#eeeeee"/><rect x="15.10" y="29.25" width="4.0" height="2.9" rx="0.3" fill="#2a3234"/><rect x="22.00" y="28.25" width="6.2" height="4.9" rx="1.1" fill="#eeeeee"/><rect x="23.10" y="29.25" width="4.0" height="2.9" rx="0.3" fill="#2a3234"/><rect x="30.00" y="28.25" width="6.2" height="4.9" rx="1.1" fill="#eeeeee"/><rect x="31.10" y="29.25" width="4.0" height="2.9" rx="0.3" fill="#2a3234"/><rect x="38.00" y="28.25" width="6.2" height="4.9" rx="1.1" fill="#eeeeee"/><rect x="39.10" y="29.25" width="4.0" height="2.9" rx="0.3" fill="#2a3234"/><rect x="46.00" y="28.25" width="6.2" height="4.9" rx="1.1" fill="#eeeeee"/><rect x="47.10" y="29.25" width="4.0" height="2.9" rx="0.3" fill="#2a3234"/><rect x="14.00" y="34.45" width="6.2" height="4.9" rx="1.1" fill="#eeeeee"/><rect x="15.10" y="35.45" width="4.0" height="2.9" rx="0.3" fill="#2a3234"/><rect x="22.00" y="34.45" width="6.2" height="4.9" rx="1.1" fill="#eeeeee"/><rect x="23.10" y="35.45" width="4.0" height="2.9" rx="0.3" fill="#2a3234"/><rect x="30.00" y="34.45" width="6.2" height="4.9" rx="1.1" fill="#eeeeee"/><rect x="31.10" y="35.45" width="4.0" height="2.9" rx="0.3" fill="#2a3234"/><rect x="38.00" y="34.45" width="6.2" height="4.9" rx="1.1" fill="#eeeeee"/><rect x="39.10" y="35.45" width="4.0" height="2.9" rx="0.3" fill="#2a3234"/><rect x="46.00" y="34.45" width="6.2" height="4.9" rx="1.1" fill="#eeeeee"/><rect x="47.10" y="35.45" width="4.0" height="2.9" rx="0.3" fill="#2a3234"/><rect x="54.8" y="27.2" width="3.8" height="11.6" rx="1.9" fill="#ececec"/><circle cx="56.7" cy="29.2" r="1.2" fill="#52a21f"/><circle cx="56.7" cy="33.0" r="1.2" fill="#c5141b"/><circle cx="56.7" cy="36.8" r="1.2" fill="#52a21f"/><rect x="59.9" y="27.9" width="21.6" height="10.0" rx="0.6" fill="#f4f4f4"/><rect x="62.00" y="28.1" width="1.4" height="9.6" fill="#1e1e1e"/><rect x="65.95" y="28.1" width="1.4" height="9.6" fill="#1e1e1e"/><rect x="69.90" y="28.1" width="1.4" height="9.6" fill="#1e1e1e"/><rect x="73.85" y="28.1" width="1.4" height="9.6" fill="#1e1e1e"/><rect x="77.80" y="28.1" width="1.4" height="9.6" fill="#1e1e1e"/></g>
<g transform="translate(1056.00 1028.40) scale(1.1130 1.1130)"><path d="M0 41.2 C0 35.8 6 33 12 32 L84 32 C90 33 96 35.8 96 41.2 C96 47 88 51.9 80 51.9 L16 51.9 C8 51.9 0 47 0 41.2Z" fill="#838383"/><rect x="16" y="45" width="64.3" height="6.9" fill="url(#swBase)"/><path d="M21.6 0.2 L75.2 0.2 Q76.8 0.2 77.6 1.7 L89.4 24.4 Q89.9 25.4 89.9 26.6 L89.9 42.4 Q89.9 45.0 87.3 45.0 L10.5 45.0 Q7.9 45.0 7.9 42.4 L7.9 26.6 Q7.9 25.4 8.4 24.4 L19.6 1.7 Q20.4 0.2 21.6 0.2Z" fill="#5a5a5a"/><path d="M22.2 1.0 L74.6 1.0 Q75.9 1.0 76.6 2.3 L88.2 25.3 L9.4 25.3 L20.3 2.3 Q21.0 1.0 22.2 1.0Z" fill="#8e8e8e"/><path d="M22.6 2.3 L74.2 2.3 Q75.2 2.3 75.7 3.3 L87.0 25.3 L10.5 25.3 L21.2 3.3 Q21.7 2.3 22.6 2.3Z" fill="url(#swTop)"/><path d="M9.5 25.3 L88.3 25.3 L88.3 41.6 Q88.3 43.2 86.7 43.2 L11.1 43.2 Q9.5 43.2 9.5 41.6Z" fill="url(#swFront)"/><rect x="9.5" y="25.3" width="78.8" height="0.9" fill="#cacaca" opacity="0.9"/><ellipse cx="19.3" cy="18.3" rx="2.7" ry="1.7" fill="#fff" opacity="0.7" filter="url(#blur1)"/><ellipse cx="78.6" cy="18.0" rx="2.7" ry="1.7" fill="#fff" opacity="0.7" filter="url(#blur1)"/><rect x="14.00" y="28.25" width="6.2" height="4.9" rx="1.1" fill="#eeeeee"/><rect x="15.10" y="29.25" width="4.0" height="2.9" rx="0.3" fill="#2a3234"/><rect x="22.00" y="28.25" width="6.2" height="4.9" rx="1.1" fill="#eeeeee"/><rect x="23.10" y="29.25" width="4.0" height="2.9" rx="0.3" fill="#2a3234"/><rect x="30.00" y="28.25" width="6.2" height="4.9" rx="1.1" fill="#eeeeee"/><rect x="31.10" y="29.25" width="4.0" height="2.9" rx="0.3" fill="#2a3234"/><rect x="38.00" y="28.25" width="6.2" height="4.9" rx="1.1" fill="#eeeeee"/><rect x="39.10" y="29.25" width="4.0" height="2.9" rx="0.3" fill="#2a3234"/><rect x="46.00" y="28.25" width="6.2" height="4.9" rx="1.1" fill="#eeeeee"/><rect x="47.10" y="29.25" width="4.0" height="2.9" rx="0.3" fill="#2a3234"/><rect x="14.00" y="34.45" width="6.2" height="4.9" rx="1.1" fill="#eeeeee"/><rect x="15.10" y="35.45" width="4.0" height="2.9" rx="0.3" fill="#2a3234"/><rect x="22.00" y="34.45" width="6.2" height="4.9" rx="1.1" fill="#eeeeee"/><rect x="23.10" y="35.45" width="4.0" height="2.9" rx="0.3" fill="#2a3234"/><rect x="30.00" y="34.45" width="6.2" height="4.9" rx="1.1" fill="#eeeeee"/><rect x="31.10" y="35.45" width="4.0" height="2.9" rx="0.3" fill="#2a3234"/><rect x="38.00" y="34.45" width="6.2" height="4.9" rx="1.1" fill="#eeeeee"/><rect x="39.10" y="35.45" width="4.0" height="2.9" rx="0.3" fill="#2a3234"/><rect x="46.00" y="34.45" width="6.2" height="4.9" rx="1.1" fill="#eeeeee"/><rect x="47.10" y="35.45" width="4.0" height="2.9" rx="0.3" fill="#2a3234"/><rect x="54.8" y="27.2" width="3.8" height="11.6" rx="1.9" fill="#ececec"/><circle cx="56.7" cy="29.2" r="1.2" fill="#52a21f"/><circle cx="56.7" cy="33.0" r="1.2" fill="#c5141b"/><circle cx="56.7" cy="36.8" r="1.2" fill="#52a21f"/><rect x="59.9" y="27.9" width="21.6" height="10.0" rx="0.6" fill="#f4f4f4"/><rect x="62.00" y="28.1" width="1.4" height="9.6" fill="#1e1e1e"/><rect x="65.95" y="28.1" width="1.4" height="9.6" fill="#1e1e1e"/><rect x="69.90" y="28.1" width="1.4" height="9.6" fill="#1e1e1e"/><rect x="73.85" y="28.1" width="1.4" height="9.6" fill="#1e1e1e"/><rect x="77.80" y="28.1" width="1.4" height="9.6" fill="#1e1e1e"/></g>
<g transform="translate(1056.00 1110.60) scale(1.1130 1.1130)"><path d="M0 41.2 C0 35.8 6 33 12 32 L84 32 C90 33 96 35.8 96 41.2 C96 47 88 51.9 80 51.9 L16 51.9 C8 51.9 0 47 0 41.2Z" fill="#838383"/><rect x="16" y="45" width="64.3" height="6.9" fill="url(#swBase)"/><path d="M21.6 0.2 L75.2 0.2 Q76.8 0.2 77.6 1.7 L89.4 24.4 Q89.9 25.4 89.9 26.6 L89.9 42.4 Q89.9 45.0 87.3 45.0 L10.5 45.0 Q7.9 45.0 7.9 42.4 L7.9 26.6 Q7.9 25.4 8.4 24.4 L19.6 1.7 Q20.4 0.2 21.6 0.2Z" fill="#5a5a5a"/><path d="M22.2 1.0 L74.6 1.0 Q75.9 1.0 76.6 2.3 L88.2 25.3 L9.4 25.3 L20.3 2.3 Q21.0 1.0 22.2 1.0Z" fill="#8e8e8e"/><path d="M22.6 2.3 L74.2 2.3 Q75.2 2.3 75.7 3.3 L87.0 25.3 L10.5 25.3 L21.2 3.3 Q21.7 2.3 22.6 2.3Z" fill="url(#swTop)"/><path d="M9.5 25.3 L88.3 25.3 L88.3 41.6 Q88.3 43.2 86.7 43.2 L11.1 43.2 Q9.5 43.2 9.5 41.6Z" fill="url(#swFront)"/><rect x="9.5" y="25.3" width="78.8" height="0.9" fill="#cacaca" opacity="0.9"/><ellipse cx="19.3" cy="18.3" rx="2.7" ry="1.7" fill="#fff" opacity="0.7" filter="url(#blur1)"/><ellipse cx="78.6" cy="18.0" rx="2.7" ry="1.7" fill="#fff" opacity="0.7" filter="url(#blur1)"/><rect x="14.00" y="28.25" width="6.2" height="4.9" rx="1.1" fill="#eeeeee"/><rect x="15.10" y="29.25" width="4.0" height="2.9" rx="0.3" fill="#2a3234"/><rect x="22.00" y="28.25" width="6.2" height="4.9" rx="1.1" fill="#eeeeee"/><rect x="23.10" y="29.25" width="4.0" height="2.9" rx="0.3" fill="#2a3234"/><rect x="30.00" y="28.25" width="6.2" height="4.9" rx="1.1" fill="#eeeeee"/><rect x="31.10" y="29.25" width="4.0" height="2.9" rx="0.3" fill="#2a3234"/><rect x="38.00" y="28.25" width="6.2" height="4.9" rx="1.1" fill="#eeeeee"/><rect x="39.10" y="29.25" width="4.0" height="2.9" rx="0.3" fill="#2a3234"/><rect x="46.00" y="28.25" width="6.2" height="4.9" rx="1.1" fill="#eeeeee"/><rect x="47.10" y="29.25" width="4.0" height="2.9" rx="0.3" fill="#2a3234"/><rect x="14.00" y="34.45" width="6.2" height="4.9" rx="1.1" fill="#eeeeee"/><rect x="15.10" y="35.45" width="4.0" height="2.9" rx="0.3" fill="#2a3234"/><rect x="22.00" y="34.45" width="6.2" height="4.9" rx="1.1" fill="#eeeeee"/><rect x="23.10" y="35.45" width="4.0" height="2.9" rx="0.3" fill="#2a3234"/><rect x="30.00" y="34.45" width="6.2" height="4.9" rx="1.1" fill="#eeeeee"/><rect x="31.10" y="35.45" width="4.0" height="2.9" rx="0.3" fill="#2a3234"/><rect x="38.00" y="34.45" width="6.2" height="4.9" rx="1.1" fill="#eeeeee"/><rect x="39.10" y="35.45" width="4.0" height="2.9" rx="0.3" fill="#2a3234"/><rect x="46.00" y="34.45" width="6.2" height="4.9" rx="1.1" fill="#eeeeee"/><rect x="47.10" y="35.45" width="4.0" height="2.9" rx="0.3" fill="#2a3234"/><rect x="54.8" y="27.2" width="3.8" height="11.6" rx="1.9" fill="#ececec"/><circle cx="56.7" cy="29.2" r="1.2" fill="#52a21f"/><circle cx="56.7" cy="33.0" r="1.2" fill="#c5141b"/><circle cx="56.7" cy="36.8" r="1.2" fill="#52a21f"/><rect x="59.9" y="27.9" width="21.6" height="10.0" rx="0.6" fill="#f4f4f4"/><rect x="62.00" y="28.1" width="1.4" height="9.6" fill="#1e1e1e"/><rect x="65.95" y="28.1" width="1.4" height="9.6" fill="#1e1e1e"/><rect x="69.90" y="28.1" width="1.4" height="9.6" fill="#1e1e1e"/><rect x="73.85" y="28.1" width="1.4" height="9.6" fill="#1e1e1e"/><rect x="77.80" y="28.1" width="1.4" height="9.6" fill="#1e1e1e"/></g>
<g transform="translate(1386.20 1046.40) scale(1.1000 1.1000)"><ellipse cx="21.2" cy="48.8" rx="21" ry="6.8" fill="#808080"/><path d="M10.5 27.5 C4.5 32 2.6 40 3.6 46 C4.2 48.8 7 49.6 10 49.6 L32.5 49.6 C35.5 49.6 38.4 48.8 39 46 C40 40 38 32 32 27.5 C25.5 25 17 25 10.5 27.5Z" fill="url(#spyBody)"/><path d="M9.6 40 L7.6 48" stroke="#3c3c3c" stroke-width="1.1" fill="none"/><path d="M33 40 L35 48" stroke="#3c3c3c" stroke-width="1.1" fill="none"/><ellipse cx="21.4" cy="21.4" rx="12" ry="9.8" fill="url(#spyHead)"/><path d="M10.4 27.6 C11.5 31.5 15 34.5 18.6 35.2 L21.2 33 L23.8 35.2 C27.5 34.5 31 31.5 31.8 27.4 L30 29.5 C27.5 32 24 33 21.2 33 C18 33 14.5 32 12 29.5Z" fill="#454545"/><path d="M18.9 36.2 L23.5 36.2 L21.6 44.8 L20.8 44.8Z" fill="#e4e4e4"/><ellipse cx="18.2" cy="20.2" rx="3.4" ry="2.3" transform="rotate(22 18.2 20.2)" fill="#050505"/><ellipse cx="26.4" cy="19.8" rx="3.4" ry="2.3" transform="rotate(-22 26.4 19.8)" fill="#050505"/><circle cx="19.4" cy="19.6" r="0.7" fill="#ddd"/><circle cx="27.6" cy="19.3" r="0.7" fill="#ddd"/><ellipse cx="19.6" cy="13.6" rx="19.6" ry="4.6" transform="rotate(-14 19.6 13.6)" fill="#f1f1f1" stroke="#dcdcdc" stroke-width="0.4"/><path d="M11.2 12.8 C10.6 8 10.8 4.2 11.8 2.6 C13.5 1.6 16 3.2 17.6 2.4 C19 1.2 20 0.2 21.2 0.4 C22.6 3 24.6 7 25.8 10.4 C21 12.6 16 13.4 11.2 12.8Z" fill="#f7f7f7" stroke="#d9d9d9" stroke-width="0.4"/><path d="M11.2 10.6 C16 10.6 21 9.4 25 7.6" stroke="#d6d6d6" stroke-width="0.6" fill="none"/></g>

<path d="M410.50 134.80L794.80 185.30M424.97 129.82L410.50 134.80L423.19 143.35M780.33 190.28L794.80 185.30L782.11 176.75" fill="none" stroke="#262626" stroke-width="1.2" stroke-linejoin="miter"/>
<path d="M503.4 304.7C540.2 151.5 649.8 159.7 794.8 197.6" fill="none" stroke="#262626" stroke-width="1.3"/>
<path d="M499.99 289.79L503.40 304.70L513.26 293.00M779.84 200.81L794.80 197.60L783.24 187.58" fill="none" stroke="#262626" stroke-width="1.1"/>
<path d="M71.20 124.50L100.40 124.50M79.66 120.19L71.20 124.50L79.66 128.81M91.94 128.81L100.40 124.50L91.94 120.19" fill="none" stroke="#262626" stroke-width="1.2" stroke-linejoin="miter"/>
<path d="M236.00 125.60L273.40 126.60M244.58 121.51L236.00 125.60L244.35 130.14M264.82 130.69L273.40 126.60L265.05 122.06" fill="none" stroke="#262626" stroke-width="1.2" stroke-linejoin="miter"/>
<path d="M168.10 198.00L168.10 211.20L139.00 211.20L139.00 225.40" fill="none" stroke="#161616" stroke-width="1.2" stroke-linejoin="miter"/>
<path d="M415.70 508.50L528.90 479.80L804.00 548.00M427.29 498.52L415.70 508.50L430.65 511.75M789.07 551.33L804.00 548.00L792.35 538.08" fill="none" stroke="#262626" stroke-width="1.2" stroke-linejoin="miter"/>
<path d="M415.70 532.00L780.30 586.30M430.25 527.26L415.70 532.00L428.24 540.77M765.75 591.04L780.30 586.30L767.76 577.53" fill="none" stroke="#262626" stroke-width="1.2" stroke-linejoin="miter"/>
<path d="M80.00 525.90L113.60 525.90M88.50 521.66L80.00 525.90L88.50 530.14M105.10 530.14L113.60 525.90L105.10 521.66" fill="none" stroke="#262626" stroke-width="1.2" stroke-linejoin="miter"/>
<path d="M249.40 525.90L280.60 525.90M257.90 521.66L249.40 525.90L257.90 530.14M272.10 530.14L280.60 525.90L272.10 521.66" fill="none" stroke="#262626" stroke-width="1.2" stroke-linejoin="miter"/>
<path d="M181.00 595.00L181.00 611.70L145.00 611.70L145.00 626.00" fill="none" stroke="#161616" stroke-width="1.2" stroke-linejoin="miter"/>
<path d="M414.00 780.30L799.00 780.30" fill="none" stroke="#262626" stroke-width="1.2" stroke-linejoin="miter"/>
<path d="M79.50 790.00L114.80 790.00M88.00 785.76L79.50 790.00L88.00 794.24M106.30 794.24L114.80 790.00L106.30 785.76" fill="none" stroke="#262626" stroke-width="1.2" stroke-linejoin="miter"/>
<path d="M201.50 676.50L201.50 692.80L217.90 692.80L217.90 708.50" fill="none" stroke="#161616" stroke-width="1.2" stroke-linejoin="miter"/>
<path d="M251.80 780.80L282.00 780.80M260.30 776.56L251.80 780.80L260.30 785.04M273.50 785.04L282.00 780.80L273.50 776.56" fill="none" stroke="#262626" stroke-width="1.2" stroke-linejoin="miter"/>
<path d="M150.00 854.20L150.00 864.50L123.10 864.50L123.10 875.80" fill="none" stroke="#161616" stroke-width="1.2" stroke-linejoin="miter"/>
<path d="M77.90 1058.80L109.50 1058.80M86.40 1054.56L77.90 1058.80L86.40 1063.04M101.00 1063.04L109.50 1058.80L101.00 1054.56" fill="none" stroke="#262626" stroke-width="1.2" stroke-linejoin="miter"/>
<path d="M259.80 1043.60L307.00 1046.40M268.54 1039.87L259.80 1043.60L268.04 1048.33M298.26 1050.13L307.00 1046.40L298.76 1041.67" fill="none" stroke="#262626" stroke-width="1.2" stroke-linejoin="miter"/>
<path d="M185.00 1124.50L185.00 1133.50L152.90 1133.50L152.90 1155.40" fill="none" stroke="#161616" stroke-width="1.2" stroke-linejoin="miter"/>
<path d="M375.5 1136V1176M376 1177.5L957 1176.5M957.5 1140V1176" fill="none" stroke="#1a1a1a" stroke-width="1" stroke-dasharray="1 1"/>
<path d="M1060.5 955.5V922.5M1336.5 924V956" fill="none" stroke="#111" stroke-width="1.1" stroke-dasharray="3 3"/>
<path d="M1058.3 919.5H1337" fill="none" stroke="#111" stroke-width="1" stroke-dasharray="3.4 2.6"/>
<path d="M1026.00 1057.60L1066.50 1057.60M1034.50 1053.36L1026.00 1057.60L1034.50 1061.84M1058.00 1061.84L1066.50 1057.60L1058.00 1053.36" fill="none" stroke="#262626" stroke-width="1.2" stroke-linejoin="miter"/>

<g filter="url(#txtAA)" font-size="12">
<text x="522.70" y="14.00" fill="#1f63c9" font-weight="bold" textLength="43.52" class="net">Internet</text>
<text x="508.00" y="133.60" fill="#333" transform="rotate(8.5 508 133.6)">SNP (161/UDP)</text>
<text x="519.60" y="170.20" fill="#333" transform="rotate(8.5 519.6 170.2)">(162/UDP)</text>
<text x="526.60" y="271.80" fill="#111">DNS</text>
<text x="4.20" y="138.20" fill="#222" textLength="22.44">LAN</text>
<text x="114.20" y="43.30" font-size="12.2" font-weight="bold" textLength="53.23" class="srv" lengthAdjust="spacingAndGlyphs">SERVER</text>
<text x="122.60" y="240.00" fill="#333">Server DNS</text>
<text x="297.20" y="48.10" fill="#cc1111" textLength="42.64">Firewall</text>
<text x="903.40" y="42.40" textLength="65.65">Monitoring 1</text>
<text x="903.40" y="119.00" textLength="65.65">Monitoring 2</text>
<text x="903.40" y="202.30" textLength="65.65">Monitoring 3</text>
<text x="1030.40" y="100.60" font-size="15.7" fill="#ffb500" textLength="79.16" class="big" stroke="#ffb500">IP PUBLIC</text>
<text x="497.60" y="408.30" fill="#1f63c9" font-weight="bold" textLength="43.52" class="net">Internet</text>
<text x="444.80" y="488.40" fill="#333">DNS</text>
<text x="529.20" y="527.70" fill="#333" textLength="118.12">SHNP (161,162/UDP)</text>
<text x="717.80" y="594.10" fill="#333">DNS</text>
<text x="17.00" y="539.10" fill="#222" textLength="22.44">LAN</text>
<text x="120.50" y="444.10" font-size="12.2" font-weight="bold" textLength="53.23" class="srv" lengthAdjust="spacingAndGlyphs">SERVER</text>
<text x="124.80" y="637.80" fill="#333">Server DNS</text>
<text x="298.20" y="448.50" fill="#cc1111" textLength="42.64">Firewall</text>
<text x="903.90" y="431.90" textLength="65.65">Monitoring 1</text>
<text x="903.90" y="493.30" textLength="56.83">Monitoring</text>
<text x="903.90" y="567.40" textLength="67.05">Monitoring n</text>
<text x="793.80" y="612.60" fill="#222" font-style="italic" textLength="64.79">IP Publique</text>
<text x="1043.50" y="491.40" font-size="15.7" fill="#ffb500" textLength="79.16" class="big" stroke="#ffb500">IP PUBLIC</text>
<text x="505.00" y="671.80" fill="#1f63c9" font-weight="bold" textLength="43.52" class="net">Internet</text>
<text x="438.80" y="776.40" fill="#333">DNS</text>
<text x="518.70" y="769.90" fill="#222" font-style="italic" textLength="64.36">IPSEC NAT</text>
<text x="606.60" y="769.90" fill="#222" font-style="italic" textLength="56.58">UDP/4500</text>
<text x="16.00" y="794.00" fill="#222" textLength="22.44">LAN</text>
<text x="115.50" y="700.70" font-size="12.2" font-weight="bold" textLength="53.23" class="srv" lengthAdjust="spacingAndGlyphs">SERVER</text>
<text x="186.40" y="679.20" fill="#111" textLength="48.29">Lan EMT</text>
<text x="114.70" y="893.30" fill="#111">Server DNS</text>
<text x="114.70" y="908.20" fill="#111" textLength="45.96">&amp; IPSEC</text>
<text x="296.00" y="705.00" fill="#cc1111" textLength="42.64">Firewall</text>
<text x="903.30" y="785.20" textLength="65.65">Monitoring 1</text>
<text x="903.30" y="874.00" textLength="56.83">Monitoring</text>
<text x="1042.20" y="767.70" font-size="15.7" fill="#ffb500" textLength="79.16" class="big" stroke="#ffb500">IP PUBLIC</text>
<text x="1042.30" y="837.90" font-size="15.7" fill="#087a68" textLength="91.11" class="big" stroke="#087a68">IP PRIVATE</text>
<text x="514.40" y="923.00" fill="#1f63c9" font-weight="bold" textLength="43.52" class="net">Internet</text>
<text x="620.80" y="1054.80" font-size="16" font-weight="bold" textLength="94.23" lengthAdjust="spacingAndGlyphs">TUNNEL VPN</text>
<text x="4.60" y="1072.00" fill="#222" textLength="22.44">LAN</text>
<text x="125.50" y="955.30" font-size="12.2" font-weight="bold" textLength="53.23" class="srv" lengthAdjust="spacingAndGlyphs">SERVER</text>
<text x="134.00" y="1166.90" fill="#333">Server DNS</text>
<text x="327.00" y="954.70" fill="#cc1111" textLength="42.64">Firewall</text>
<text x="882.00" y="971.20" fill="#cc1111" textLength="42.64">Firewall</text>
<text x="623.80" y="1173.00" font-weight="bold" textLength="73.30">2 Companies</text>
<text x="1158.30" y="912.00" font-size="14" font-weight="bold" textLength="88.74" lengthAdjust="spacingAndGlyphs">LAN PRIVATE</text>
<text x="1218.40" y="969.70" textLength="64.55">Monitoring 1</text>
<text x="1218.40" y="1049.30" textLength="56.23">Monitoring</text>
<text x="1218.40" y="1141.30" textLength="65.85">Monitoring n</text>
<text x="1073.30" y="1190.00" fill="#222" font-style="italic">IP Private</text>
<text x="1393.10" y="1046.50" font-size="15.7" fill="#087a68" textLength="91.11" class="big" stroke="#087a68">IP PRIVATE</text>
</g>
</svg>
</body></html>
